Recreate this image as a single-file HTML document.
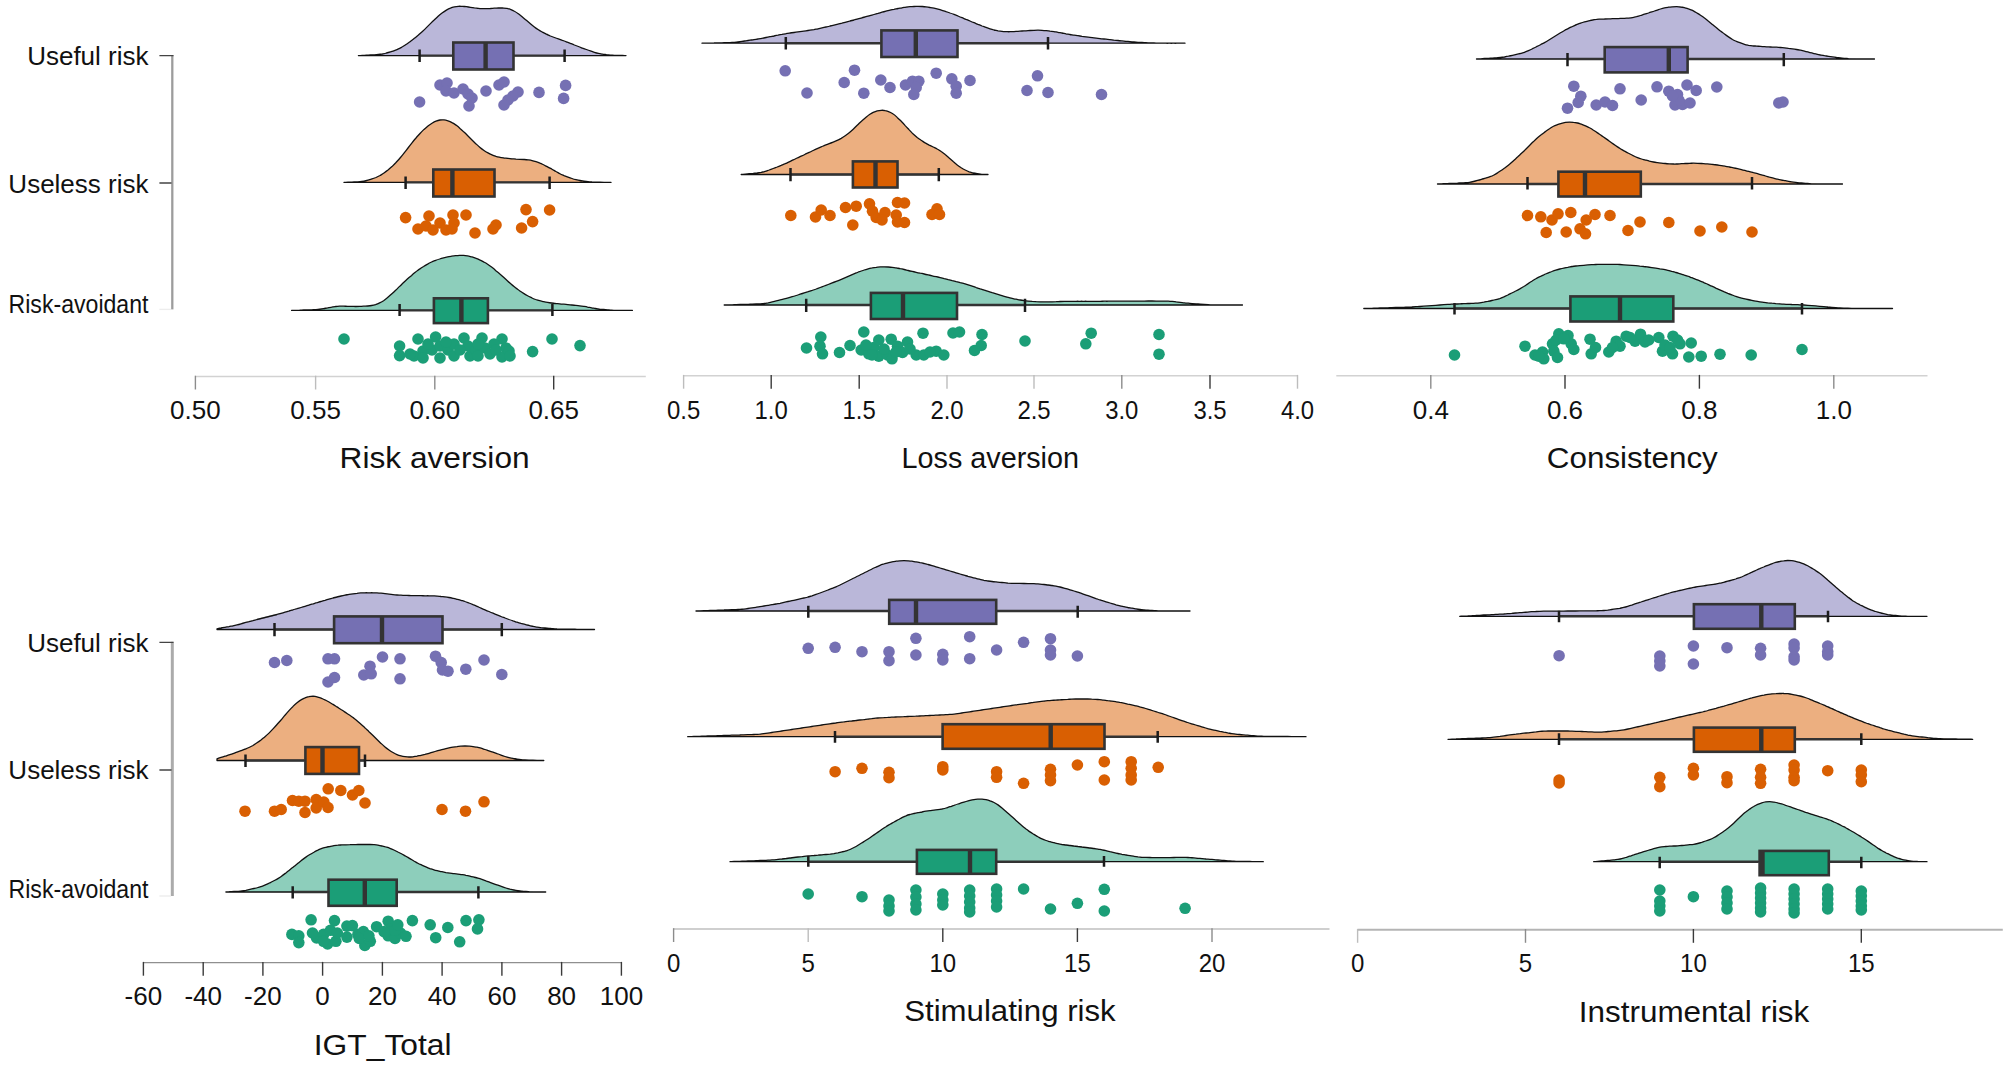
<!DOCTYPE html>
<html lang="en"><head><meta charset="utf-8"><title>Raincloud plots</title>
<style>
html,body{margin:0;padding:0;background:#fff}
svg{display:block}
text{font-family:"Liberation Sans",Arial,Helvetica,sans-serif;fill:#111}
.tk text{text-anchor:middle}
.ti{font-size:29px;text-anchor:start}
.yl{font-size:26px;text-anchor:end}
</style></head><body>
<svg width="2007" height="1068" viewBox="0 0 2007 1068">
<rect width="2007" height="1068" fill="#fff"/>
<path d="M358.4,55.6 C359.1,55.6 361.1,55.5 362.4,55.4 C363.7,55.3 365.1,55.3 366.4,55.2 C367.7,55.1 369.1,55.1 370.4,55.0 C371.7,54.9 373.1,54.9 374.4,54.8 C375.7,54.7 377.1,54.6 378.4,54.5 C379.7,54.4 381.1,54.2 382.4,54.0 C383.7,53.7 385.1,53.4 386.4,53.0 C387.7,52.7 389.1,52.3 390.4,51.9 C391.7,51.5 393.1,51.1 394.4,50.6 C395.7,50.1 397.1,49.6 398.4,48.9 C399.7,48.3 401.1,47.5 402.4,46.8 C403.7,46.0 405.1,45.1 406.4,44.2 C407.7,43.3 409.1,42.4 410.4,41.4 C411.7,40.4 413.1,39.4 414.4,38.3 C415.7,37.2 417.1,36.1 418.4,35.0 C419.7,33.8 421.1,32.6 422.4,31.4 C423.7,30.2 425.1,28.9 426.4,27.6 C427.7,26.3 429.1,24.9 430.4,23.6 C431.7,22.3 433.1,21.0 434.4,19.8 C435.7,18.5 437.1,17.3 438.4,16.1 C439.7,14.9 441.1,13.8 442.4,12.8 C443.7,11.8 445.1,10.9 446.4,10.1 C447.7,9.4 449.1,8.7 450.4,8.2 C451.7,7.6 453.1,7.2 454.4,6.9 C455.7,6.6 457.1,6.4 458.4,6.3 C459.7,6.2 461.1,6.3 462.4,6.3 C463.7,6.4 465.1,6.6 466.4,6.7 C467.7,6.9 469.1,7.1 470.4,7.3 C471.7,7.5 473.1,7.7 474.4,7.9 C475.7,8.0 477.1,8.2 478.4,8.3 C479.7,8.5 481.1,8.6 482.4,8.7 C483.7,8.7 485.1,8.7 486.4,8.7 C487.7,8.7 489.1,8.5 490.4,8.5 C491.7,8.4 493.1,8.3 494.4,8.2 C495.7,8.1 497.1,8.1 498.4,8.0 C499.7,8.0 501.1,8.0 502.4,8.0 C503.7,8.1 505.1,8.1 506.4,8.3 C507.7,8.6 509.1,8.9 510.4,9.3 C511.7,9.8 513.1,10.4 514.4,11.2 C515.7,11.9 517.1,12.9 518.4,13.8 C519.7,14.8 521.1,15.9 522.4,17.0 C523.7,18.1 525.1,19.2 526.4,20.3 C527.7,21.4 529.1,22.6 530.4,23.7 C531.7,24.8 533.1,25.9 534.4,26.9 C535.7,27.9 537.1,28.9 538.4,29.8 C539.7,30.7 541.1,31.4 542.4,32.1 C543.7,32.9 545.1,33.5 546.4,34.2 C547.7,34.8 549.1,35.4 550.4,36.0 C551.7,36.5 553.1,37.0 554.4,37.5 C555.7,38.0 557.1,38.5 558.4,38.9 C559.7,39.4 561.1,39.9 562.4,40.4 C563.7,40.8 565.1,41.3 566.4,41.8 C567.7,42.3 569.1,42.8 570.4,43.4 C571.7,43.9 573.1,44.4 574.4,45.0 C575.7,45.5 577.1,46.0 578.4,46.5 C579.7,47.1 581.1,47.6 582.4,48.1 C583.7,48.6 585.1,49.1 586.4,49.5 C587.7,50.0 589.1,50.5 590.4,50.9 C591.7,51.4 593.1,51.9 594.4,52.3 C595.7,52.7 597.1,53.1 598.4,53.4 C599.7,53.7 601.1,53.9 602.4,54.1 C603.7,54.4 605.1,54.5 606.4,54.7 C607.7,54.8 609.1,55.0 610.4,55.1 C611.7,55.2 613.1,55.2 614.4,55.3 C615.7,55.3 617.1,55.4 618.4,55.4 C619.7,55.4 621.1,55.5 622.4,55.5 C623.7,55.5 625.4,55.6 626.0,55.6 L626.0,55.6 L358.4,55.6 Z" fill="#BAB7D9" stroke="#111" stroke-width="1.3" stroke-linejoin="round"/>
<path d="M419.6,55.6 H452.4 M514.0,55.6 H564.6" stroke="#333333" stroke-width="2.4" fill="none"/>
<path d="M419.6,49.6 V62.0 M564.6,49.6 V62.0" stroke="#1c1c1c" stroke-width="2.5" fill="none"/>
<rect x="453.3" y="42.5" width="60.2" height="27.0" fill="#7570B3" stroke="#333333" stroke-width="2.6"/>
<path d="M485.6,42.6 V69.0" stroke="#333333" stroke-width="4.4"/>
<g fill="#7570B3"><circle cx="419.6" cy="102.0" r="5.8"/><circle cx="440.0" cy="85.0" r="5.8"/><circle cx="447.0" cy="83.0" r="5.8"/><circle cx="446.0" cy="91.0" r="5.8"/><circle cx="454.0" cy="93.0" r="5.8"/><circle cx="463.0" cy="89.0" r="5.8"/><circle cx="468.0" cy="94.0" r="5.8"/><circle cx="472.0" cy="98.0" r="5.8"/><circle cx="469.0" cy="106.0" r="5.8"/><circle cx="486.0" cy="91.0" r="5.8"/><circle cx="499.0" cy="85.0" r="5.8"/><circle cx="504.0" cy="82.0" r="5.8"/><circle cx="518.0" cy="92.0" r="5.8"/><circle cx="513.0" cy="96.0" r="5.8"/><circle cx="508.0" cy="100.0" r="5.8"/><circle cx="504.0" cy="105.0" r="5.8"/><circle cx="539.0" cy="92.4" r="5.8"/><circle cx="565.6" cy="85.4" r="5.8"/><circle cx="563.6" cy="98.4" r="5.8"/></g>
<path d="M344.0,182.4 C344.7,182.4 346.7,182.3 348.0,182.2 C349.3,182.2 350.7,182.1 352.0,182.1 C353.3,182.0 354.7,182.0 356.0,181.9 C357.3,181.9 358.7,181.8 360.0,181.7 C361.3,181.6 362.7,181.4 364.0,181.2 C365.3,181.0 366.7,180.6 368.0,180.2 C369.3,179.8 370.7,179.4 372.0,178.9 C373.3,178.5 374.7,178.0 376.0,177.5 C377.3,176.9 378.7,176.2 380.0,175.5 C381.3,174.7 382.7,173.9 384.0,173.0 C385.3,172.1 386.7,171.1 388.0,170.1 C389.3,169.0 390.7,167.8 392.0,166.6 C393.3,165.3 394.7,163.9 396.0,162.5 C397.3,161.0 398.7,159.6 400.0,158.0 C401.3,156.5 402.7,154.9 404.0,153.2 C405.3,151.5 406.7,149.7 408.0,148.0 C409.3,146.3 410.7,144.5 412.0,142.8 C413.3,141.1 414.7,139.5 416.0,138.0 C417.3,136.4 418.7,135.0 420.0,133.5 C421.3,132.1 422.7,130.7 424.0,129.4 C425.3,128.2 426.7,127.0 428.0,125.9 C429.3,124.9 430.7,124.0 432.0,123.2 C433.3,122.4 434.7,121.6 436.0,121.1 C437.3,120.6 438.7,120.2 440.0,120.0 C441.3,119.8 442.7,119.8 444.0,119.9 C445.3,120.0 446.7,120.4 448.0,120.8 C449.3,121.2 450.7,121.8 452.0,122.6 C453.3,123.3 454.7,124.2 456.0,125.1 C457.3,126.1 458.7,127.2 460.0,128.4 C461.3,129.5 462.7,130.8 464.0,132.1 C465.3,133.3 466.7,134.7 468.0,136.0 C469.3,137.3 470.7,138.7 472.0,140.0 C473.3,141.3 474.7,142.7 476.0,143.9 C477.3,145.2 478.7,146.4 480.0,147.5 C481.3,148.6 482.7,149.6 484.0,150.5 C485.3,151.4 486.7,152.2 488.0,152.9 C489.3,153.7 490.7,154.3 492.0,154.8 C493.3,155.4 494.7,155.8 496.0,156.3 C497.3,156.7 498.7,157.0 500.0,157.3 C501.3,157.6 502.7,157.8 504.0,158.0 C505.3,158.1 506.7,158.3 508.0,158.4 C509.3,158.5 510.7,158.7 512.0,158.8 C513.3,158.9 514.7,159.0 516.0,159.1 C517.3,159.1 518.7,159.2 520.0,159.3 C521.3,159.3 522.7,159.4 524.0,159.5 C525.3,159.6 526.7,159.7 528.0,159.9 C529.3,160.1 530.7,160.3 532.0,160.6 C533.3,160.9 534.7,161.3 536.0,161.7 C537.3,162.1 538.7,162.6 540.0,163.2 C541.3,163.7 542.7,164.4 544.0,165.0 C545.3,165.7 546.7,166.4 548.0,167.1 C549.3,167.8 550.7,168.5 552.0,169.2 C553.3,170.0 554.7,170.7 556.0,171.5 C557.3,172.2 558.7,173.0 560.0,173.7 C561.3,174.4 562.7,175.0 564.0,175.6 C565.3,176.1 566.7,176.6 568.0,177.1 C569.3,177.6 570.7,178.1 572.0,178.5 C573.3,179.0 574.7,179.4 576.0,179.7 C577.3,180.0 578.7,180.3 580.0,180.5 C581.3,180.8 582.7,180.9 584.0,181.1 C585.3,181.3 586.7,181.5 588.0,181.6 C589.3,181.8 590.7,181.9 592.0,182.0 C593.3,182.0 594.7,182.1 596.0,182.1 C597.3,182.1 598.7,182.2 600.0,182.2 C601.3,182.2 602.7,182.2 604.0,182.3 C605.3,182.3 606.8,182.3 608.0,182.3 C609.2,182.4 610.5,182.4 611.0,182.4 L611.0,182.4 L344.0,182.4 Z" fill="#ECAF80" stroke="#111" stroke-width="1.3" stroke-linejoin="round"/>
<path d="M405.6,182.4 H432.4 M495.0,182.4 H549.6" stroke="#333333" stroke-width="2.4" fill="none"/>
<path d="M405.6,176.4 V189.0 M549.6,176.4 V189.0" stroke="#1c1c1c" stroke-width="2.5" fill="none"/>
<rect x="433.3" y="169.5" width="61.2" height="27.0" fill="#D95F02" stroke="#333333" stroke-width="2.6"/>
<path d="M452.4,169.6 V196.0" stroke="#333333" stroke-width="4.4"/>
<g fill="#D95F02"><circle cx="405.6" cy="217.6" r="5.8"/><circle cx="418.0" cy="229.0" r="5.8"/><circle cx="429.0" cy="216.0" r="5.8"/><circle cx="426.0" cy="226.0" r="5.8"/><circle cx="433.0" cy="230.0" r="5.8"/><circle cx="440.0" cy="223.0" r="5.8"/><circle cx="446.0" cy="230.0" r="5.8"/><circle cx="453.0" cy="215.0" r="5.8"/><circle cx="454.0" cy="223.0" r="5.8"/><circle cx="452.0" cy="229.0" r="5.8"/><circle cx="466.0" cy="215.0" r="5.8"/><circle cx="475.0" cy="233.0" r="5.8"/><circle cx="496.0" cy="225.0" r="5.8"/><circle cx="493.0" cy="229.0" r="5.8"/><circle cx="521.6" cy="228.0" r="5.8"/><circle cx="532.6" cy="221.6" r="5.8"/><circle cx="526.0" cy="209.6" r="5.8"/><circle cx="549.6" cy="210.0" r="5.8"/></g>
<path d="M291.6,310.4 C292.3,310.4 294.3,310.3 295.6,310.3 C296.9,310.2 298.3,310.2 299.6,310.2 C300.9,310.1 302.3,310.1 303.6,310.0 C304.9,310.0 306.3,310.0 307.6,309.9 C308.9,309.9 310.3,309.8 311.6,309.8 C312.9,309.7 314.3,309.7 315.6,309.6 C316.9,309.5 318.3,309.4 319.6,309.2 C320.9,309.0 322.3,308.8 323.6,308.6 C324.9,308.4 326.3,308.1 327.6,307.9 C328.9,307.6 330.3,307.4 331.6,307.2 C332.9,306.9 334.3,306.7 335.6,306.5 C336.9,306.4 338.3,306.3 339.6,306.2 C340.9,306.1 342.3,306.2 343.6,306.2 C344.9,306.2 346.3,306.3 347.6,306.3 C348.9,306.3 350.3,306.4 351.6,306.4 C352.9,306.4 354.3,306.5 355.6,306.5 C356.9,306.5 358.3,306.5 359.6,306.4 C360.9,306.4 362.3,306.3 363.6,306.2 C364.9,306.2 366.3,306.1 367.6,306.0 C368.9,305.9 370.3,305.8 371.6,305.5 C372.9,305.3 374.3,305.0 375.6,304.6 C376.9,304.1 378.3,303.6 379.6,302.9 C380.9,302.3 382.3,301.5 383.6,300.7 C384.9,299.8 386.3,298.7 387.6,297.6 C388.9,296.5 390.3,295.3 391.6,294.1 C392.9,292.9 394.3,291.6 395.6,290.3 C396.9,289.0 398.3,287.7 399.6,286.4 C400.9,285.1 402.3,283.8 403.6,282.5 C404.9,281.2 406.3,280.0 407.6,278.8 C408.9,277.6 410.3,276.5 411.6,275.4 C412.9,274.2 414.3,273.1 415.6,272.1 C416.9,271.1 418.3,270.1 419.6,269.1 C420.9,268.2 422.3,267.3 423.6,266.5 C424.9,265.6 426.3,264.8 427.6,264.1 C428.9,263.3 430.3,262.6 431.6,262.0 C432.9,261.4 434.3,260.9 435.6,260.4 C436.9,259.9 438.3,259.4 439.6,259.0 C440.9,258.5 442.3,258.1 443.6,257.8 C444.9,257.5 446.3,257.2 447.6,256.9 C448.9,256.6 450.3,256.4 451.6,256.2 C452.9,256.0 454.3,255.8 455.6,255.7 C456.9,255.6 458.3,255.5 459.6,255.4 C460.9,255.4 462.3,255.4 463.6,255.4 C464.9,255.5 466.3,255.7 467.6,255.9 C468.9,256.1 470.3,256.5 471.6,256.8 C472.9,257.2 474.3,257.6 475.6,258.2 C476.9,258.7 478.3,259.2 479.6,259.9 C480.9,260.5 482.3,261.1 483.6,261.9 C484.9,262.6 486.3,263.3 487.6,264.2 C488.9,265.1 490.3,266.1 491.6,267.1 C492.9,268.1 494.3,269.2 495.6,270.4 C496.9,271.5 498.3,272.6 499.6,273.8 C500.9,274.9 502.3,276.1 503.6,277.3 C504.9,278.5 506.3,279.8 507.6,280.9 C508.9,282.1 510.3,283.3 511.6,284.4 C512.9,285.6 514.3,286.6 515.6,287.7 C516.9,288.7 518.3,289.7 519.6,290.7 C520.9,291.6 522.3,292.6 523.6,293.4 C524.9,294.2 526.3,295.0 527.6,295.7 C528.9,296.5 530.3,297.1 531.6,297.7 C532.9,298.4 534.3,299.0 535.6,299.5 C536.9,299.9 538.3,300.3 539.6,300.7 C540.9,301.1 542.3,301.3 543.6,301.6 C544.9,301.9 546.3,302.2 547.6,302.4 C548.9,302.7 550.3,302.9 551.6,303.0 C552.9,303.2 554.3,303.3 555.6,303.5 C556.9,303.6 558.3,303.7 559.6,303.8 C560.9,304.0 562.3,304.1 563.6,304.2 C564.9,304.3 566.3,304.4 567.6,304.6 C568.9,304.7 570.3,304.8 571.6,305.0 C572.9,305.1 574.3,305.2 575.6,305.4 C576.9,305.5 578.3,305.6 579.6,305.8 C580.9,306.0 582.3,306.2 583.6,306.4 C584.9,306.6 586.3,306.8 587.6,307.1 C588.9,307.3 590.3,307.6 591.6,307.8 C592.9,308.0 594.3,308.3 595.6,308.5 C596.9,308.7 598.3,308.9 599.6,309.1 C600.9,309.2 602.3,309.4 603.6,309.5 C604.9,309.6 606.3,309.7 607.6,309.8 C608.9,309.9 610.3,310.1 611.6,310.1 C612.9,310.2 614.3,310.3 615.6,310.3 C616.9,310.4 618.3,310.4 619.6,310.4 C620.9,310.4 622.3,310.4 623.6,310.4 C624.9,310.4 626.1,310.4 627.6,310.4 C629.1,310.4 631.6,310.4 632.4,310.4 L632.4,310.4 L291.6,310.4 Z" fill="#8DCEBB" stroke="#111" stroke-width="1.3" stroke-linejoin="round"/>
<path d="M399.6,310.4 H433.0 M488.4,310.4 H552.4" stroke="#333333" stroke-width="2.4" fill="none"/>
<path d="M399.6,304.0 V316.0 M552.4,304.0 V316.0" stroke="#1c1c1c" stroke-width="2.5" fill="none"/>
<rect x="433.9" y="298.3" width="54.0" height="24.8" fill="#1B9E77" stroke="#333333" stroke-width="2.6"/>
<path d="M461.4,298.4 V322.6" stroke="#333333" stroke-width="4.4"/>
<g fill="#1B9E77"><circle cx="344.0" cy="339.0" r="5.8"/><circle cx="399.6" cy="346.0" r="5.8"/><circle cx="399.6" cy="355.6" r="5.8"/><circle cx="418.0" cy="339.0" r="5.8"/><circle cx="414.0" cy="356.0" r="5.8"/><circle cx="423.0" cy="351.0" r="5.8"/><circle cx="423.0" cy="358.0" r="5.8"/><circle cx="435.6" cy="337.0" r="5.8"/><circle cx="432.0" cy="350.0" r="5.8"/><circle cx="440.0" cy="346.0" r="5.8"/><circle cx="440.0" cy="358.0" r="5.8"/><circle cx="448.0" cy="350.0" r="5.8"/><circle cx="454.0" cy="344.0" r="5.8"/><circle cx="454.0" cy="356.0" r="5.8"/><circle cx="464.0" cy="338.0" r="5.8"/><circle cx="468.0" cy="346.0" r="5.8"/><circle cx="470.0" cy="356.0" r="5.8"/><circle cx="476.0" cy="350.0" r="5.8"/><circle cx="482.0" cy="338.0" r="5.8"/><circle cx="485.0" cy="348.0" r="5.8"/><circle cx="490.0" cy="354.0" r="5.8"/><circle cx="502.0" cy="339.0" r="5.8"/><circle cx="506.0" cy="348.0" r="5.8"/><circle cx="502.0" cy="357.0" r="5.8"/><circle cx="509.0" cy="351.0" r="5.8"/><circle cx="532.6" cy="351.6" r="5.8"/><circle cx="552.0" cy="339.0" r="5.8"/><circle cx="580.0" cy="345.6" r="5.8"/><circle cx="410.0" cy="354.0" r="5.8"/><circle cx="428.0" cy="344.0" r="5.8"/><circle cx="446.0" cy="342.0" r="5.8"/><circle cx="460.0" cy="350.0" r="5.8"/><circle cx="478.0" cy="356.0" r="5.8"/><circle cx="494.0" cy="344.0" r="5.8"/><circle cx="496.0" cy="350.0" r="5.8"/><circle cx="510.0" cy="356.0" r="5.8"/><circle cx="478.0" cy="344.0" r="5.8"/></g>
<path d="M702.0,43.2 C702.7,43.2 704.7,43.2 706.0,43.2 C707.3,43.1 708.7,43.1 710.0,43.1 C711.3,43.0 712.7,43.0 714.0,43.0 C715.3,42.9 716.7,42.9 718.0,42.9 C719.3,42.9 720.7,42.8 722.0,42.8 C723.3,42.8 724.7,42.7 726.0,42.7 C727.3,42.7 728.7,42.6 730.0,42.6 C731.3,42.5 732.7,42.5 734.0,42.4 C735.3,42.3 736.7,42.2 738.0,42.0 C739.3,41.8 740.7,41.6 742.0,41.4 C743.3,41.3 744.7,41.0 746.0,40.8 C747.3,40.7 748.7,40.5 750.0,40.2 C751.3,40.0 752.7,39.9 754.0,39.6 C755.3,39.4 756.7,39.2 758.0,39.0 C759.3,38.8 760.7,38.6 762.0,38.3 C763.3,38.1 764.7,37.8 766.0,37.5 C767.3,37.3 768.7,37.0 770.0,36.7 C771.3,36.5 772.7,36.2 774.0,36.0 C775.3,35.7 776.7,35.4 778.0,35.2 C779.3,34.9 780.7,34.6 782.0,34.4 C783.3,34.1 784.7,33.9 786.0,33.7 C787.3,33.4 788.7,33.2 790.0,33.0 C791.3,32.9 792.7,32.7 794.0,32.5 C795.3,32.3 796.7,32.1 798.0,31.9 C799.3,31.7 800.7,31.5 802.0,31.3 C803.3,31.2 804.7,31.0 806.0,30.8 C807.3,30.6 808.7,30.4 810.0,30.2 C811.3,30.0 812.7,29.8 814.0,29.6 C815.3,29.3 816.7,29.1 818.0,28.8 C819.3,28.5 820.7,28.2 822.0,27.9 C823.3,27.6 824.7,27.3 826.0,27.0 C827.3,26.7 828.7,26.4 830.0,26.0 C831.3,25.7 832.7,25.4 834.0,25.1 C835.3,24.8 836.7,24.5 838.0,24.2 C839.3,23.9 840.7,23.5 842.0,23.2 C843.3,22.8 844.7,22.5 846.0,22.1 C847.3,21.8 848.7,21.4 850.0,21.0 C851.3,20.7 852.7,20.3 854.0,20.0 C855.3,19.6 856.7,19.3 858.0,18.9 C859.3,18.5 860.7,18.2 862.0,17.8 C863.3,17.4 864.7,17.1 866.0,16.7 C867.3,16.3 868.7,16.0 870.0,15.6 C871.3,15.2 872.7,14.9 874.0,14.5 C875.3,14.1 876.7,13.7 878.0,13.4 C879.3,13.0 880.7,12.6 882.0,12.2 C883.3,11.9 884.7,11.5 886.0,11.1 C887.3,10.8 888.7,10.4 890.0,10.1 C891.3,9.8 892.7,9.5 894.0,9.3 C895.3,9.0 896.7,8.8 898.0,8.5 C899.3,8.3 900.7,8.0 902.0,7.8 C903.3,7.6 904.7,7.3 906.0,7.1 C907.3,7.0 908.7,6.8 910.0,6.7 C911.3,6.6 912.7,6.6 914.0,6.5 C915.3,6.5 916.7,6.4 918.0,6.4 C919.3,6.4 920.7,6.4 922.0,6.5 C923.3,6.6 924.7,6.7 926.0,6.9 C927.3,7.1 928.7,7.3 930.0,7.5 C931.3,7.7 932.7,7.9 934.0,8.2 C935.3,8.5 936.7,8.8 938.0,9.1 C939.3,9.5 940.7,9.9 942.0,10.3 C943.3,10.7 944.7,11.1 946.0,11.6 C947.3,12.0 948.7,12.5 950.0,13.0 C951.3,13.4 952.7,13.9 954.0,14.4 C955.3,15.0 956.7,15.5 958.0,16.0 C959.3,16.6 960.7,17.2 962.0,17.7 C963.3,18.3 964.7,18.8 966.0,19.4 C967.3,19.9 968.7,20.5 970.0,21.0 C971.3,21.6 972.7,22.2 974.0,22.7 C975.3,23.3 976.7,23.8 978.0,24.4 C979.3,24.9 980.7,25.4 982.0,26.0 C983.3,26.5 984.7,26.9 986.0,27.4 C987.3,27.9 988.7,28.4 990.0,28.8 C991.3,29.2 992.7,29.6 994.0,30.0 C995.3,30.3 996.7,30.5 998.0,30.8 C999.3,31.0 1000.7,31.2 1002.0,31.3 C1003.3,31.5 1004.7,31.6 1006.0,31.7 C1007.3,31.7 1008.7,31.8 1010.0,31.7 C1011.3,31.7 1012.7,31.6 1014.0,31.6 C1015.3,31.5 1016.7,31.4 1018.0,31.3 C1019.3,31.2 1020.7,31.1 1022.0,31.0 C1023.3,30.9 1024.7,30.9 1026.0,30.8 C1027.3,30.7 1028.7,30.6 1030.0,30.5 C1031.3,30.4 1032.7,30.3 1034.0,30.3 C1035.3,30.2 1036.7,30.2 1038.0,30.2 C1039.3,30.2 1040.7,30.3 1042.0,30.4 C1043.3,30.5 1044.7,30.6 1046.0,30.7 C1047.3,30.8 1048.7,30.9 1050.0,31.1 C1051.3,31.2 1052.7,31.4 1054.0,31.6 C1055.3,31.8 1056.7,32.1 1058.0,32.3 C1059.3,32.5 1060.7,32.8 1062.0,33.0 C1063.3,33.3 1064.7,33.5 1066.0,33.8 C1067.3,34.0 1068.7,34.3 1070.0,34.5 C1071.3,34.7 1072.7,35.0 1074.0,35.2 C1075.3,35.4 1076.7,35.5 1078.0,35.7 C1079.3,35.9 1080.7,36.1 1082.0,36.3 C1083.3,36.4 1084.7,36.6 1086.0,36.8 C1087.3,37.0 1088.7,37.2 1090.0,37.3 C1091.3,37.5 1092.7,37.7 1094.0,37.8 C1095.3,38.0 1096.7,38.2 1098.0,38.3 C1099.3,38.5 1100.7,38.6 1102.0,38.8 C1103.3,38.9 1104.7,39.1 1106.0,39.2 C1107.3,39.4 1108.7,39.5 1110.0,39.6 C1111.3,39.8 1112.7,39.9 1114.0,40.1 C1115.3,40.2 1116.7,40.4 1118.0,40.5 C1119.3,40.7 1120.7,40.8 1122.0,40.9 C1123.3,41.0 1124.7,41.2 1126.0,41.3 C1127.3,41.4 1128.7,41.5 1130.0,41.6 C1131.3,41.7 1132.7,41.9 1134.0,42.0 C1135.3,42.1 1136.7,42.2 1138.0,42.3 C1139.3,42.4 1140.7,42.5 1142.0,42.5 C1143.3,42.6 1144.7,42.7 1146.0,42.7 C1147.3,42.8 1148.7,42.8 1150.0,42.9 C1151.3,42.9 1152.7,43.0 1154.0,43.0 C1155.3,43.1 1156.7,43.1 1158.0,43.2 C1159.3,43.2 1160.7,43.2 1162.0,43.2 C1163.3,43.2 1164.7,43.2 1166.0,43.2 C1167.3,43.3 1168.7,43.2 1170.0,43.2 C1171.3,43.3 1172.7,43.2 1174.0,43.2 C1175.3,43.3 1176.7,43.2 1178.0,43.2 C1179.3,43.2 1180.8,43.2 1182.0,43.2 C1183.2,43.2 1184.5,43.2 1185.0,43.2 L1185.0,43.2 L702.0,43.2 Z" fill="#BAB7D9" stroke="#111" stroke-width="1.3" stroke-linejoin="round"/>
<path d="M785.8,43.2 H880.5 M958.0,43.2 H1048.0" stroke="#333333" stroke-width="2.4" fill="none"/>
<path d="M785.8,37.0 V49.5 M1048.0,37.0 V49.5" stroke="#1c1c1c" stroke-width="2.5" fill="none"/>
<rect x="881.4" y="30.4" width="76.1" height="26.6" fill="#7570B3" stroke="#333333" stroke-width="2.6"/>
<path d="M915.8,30.5 V56.5" stroke="#333333" stroke-width="4.4"/>
<g fill="#7570B3"><circle cx="785.2" cy="70.8" r="5.8"/><circle cx="807.0" cy="93.0" r="5.8"/><circle cx="844.2" cy="82.5" r="5.8"/><circle cx="854.5" cy="70.2" r="5.8"/><circle cx="863.8" cy="93.2" r="5.8"/><circle cx="880.8" cy="80.0" r="5.8"/><circle cx="890.0" cy="87.5" r="5.8"/><circle cx="905.5" cy="85.0" r="5.8"/><circle cx="912.5" cy="81.2" r="5.8"/><circle cx="918.8" cy="81.2" r="5.8"/><circle cx="916.2" cy="87.5" r="5.8"/><circle cx="913.8" cy="94.5" r="5.8"/><circle cx="936.2" cy="73.2" r="5.8"/><circle cx="951.8" cy="78.8" r="5.8"/><circle cx="956.2" cy="86.2" r="5.8"/><circle cx="956.2" cy="93.2" r="5.8"/><circle cx="970.0" cy="80.5" r="5.8"/><circle cx="1027.0" cy="90.5" r="5.8"/><circle cx="1037.5" cy="75.8" r="5.8"/><circle cx="1048.0" cy="92.5" r="5.8"/><circle cx="1101.5" cy="94.5" r="5.8"/></g>
<path d="M741.2,174.5 C741.9,174.4 743.9,174.2 745.2,174.1 C746.6,174.0 747.9,173.9 749.2,173.7 C750.6,173.6 751.9,173.5 753.2,173.4 C754.6,173.2 755.9,173.1 757.2,173.0 C758.6,172.8 759.9,172.6 761.2,172.4 C762.6,172.1 763.9,171.8 765.2,171.3 C766.6,170.9 767.9,170.4 769.2,170.0 C770.6,169.5 771.9,169.0 773.2,168.5 C774.6,168.0 775.9,167.5 777.2,167.0 C778.6,166.4 779.9,165.9 781.2,165.4 C782.6,164.8 783.9,164.2 785.2,163.7 C786.6,163.1 787.9,162.4 789.2,161.8 C790.6,161.2 791.9,160.5 793.2,159.9 C794.6,159.3 795.9,158.6 797.2,158.0 C798.6,157.4 799.9,156.7 801.2,156.1 C802.6,155.5 803.9,154.9 805.2,154.2 C806.6,153.6 807.9,153.0 809.2,152.4 C810.6,151.8 811.9,151.1 813.2,150.5 C814.6,149.9 815.9,149.3 817.2,148.7 C818.6,148.1 819.9,147.5 821.2,146.9 C822.6,146.3 823.9,145.8 825.2,145.2 C826.6,144.7 827.9,144.2 829.2,143.6 C830.6,143.1 831.9,142.6 833.2,142.1 C834.6,141.6 835.9,141.0 837.2,140.4 C838.6,139.8 839.9,139.1 841.2,138.4 C842.6,137.6 843.9,136.7 845.2,135.8 C846.6,134.8 847.9,133.8 849.2,132.7 C850.6,131.6 851.9,130.4 853.2,129.2 C854.6,127.9 855.9,126.6 857.2,125.3 C858.6,124.0 859.9,122.6 861.2,121.4 C862.6,120.2 863.9,119.0 865.2,117.9 C866.6,116.8 867.9,115.7 869.2,114.8 C870.6,113.9 871.9,113.0 873.2,112.4 C874.6,111.8 875.9,111.3 877.2,110.9 C878.6,110.6 879.9,110.4 881.2,110.3 C882.6,110.2 883.9,110.3 885.2,110.6 C886.6,110.8 887.9,111.2 889.2,111.8 C890.6,112.3 891.9,113.1 893.2,114.0 C894.6,114.9 895.9,116.1 897.2,117.4 C898.6,118.6 899.9,120.0 901.2,121.3 C902.6,122.7 903.9,124.1 905.2,125.6 C906.6,127.0 907.9,128.5 909.2,129.9 C910.6,131.3 911.9,132.8 913.2,134.0 C914.6,135.3 915.9,136.4 917.2,137.5 C918.6,138.5 919.9,139.4 921.2,140.3 C922.6,141.2 923.9,142.1 925.2,142.9 C926.6,143.7 927.9,144.4 929.2,145.1 C930.6,145.8 931.9,146.4 933.2,147.0 C934.6,147.7 935.9,148.2 937.2,149.0 C938.6,149.7 939.9,150.5 941.2,151.5 C942.6,152.4 943.9,153.5 945.2,154.6 C946.6,155.7 947.9,156.9 949.2,158.1 C950.6,159.3 951.9,160.4 953.2,161.6 C954.6,162.7 955.9,163.9 957.2,164.9 C958.6,166.0 959.9,166.9 961.2,167.8 C962.6,168.7 963.9,169.4 965.2,170.0 C966.6,170.7 967.9,171.3 969.2,171.8 C970.6,172.3 971.9,172.6 973.2,173.0 C974.6,173.3 975.9,173.5 977.2,173.7 C978.6,173.9 979.9,174.0 981.2,174.2 C982.6,174.3 984.1,174.3 985.2,174.4 C986.4,174.4 987.5,174.5 988.0,174.5 L988.0,174.5 L741.2,174.5 Z" fill="#ECAF80" stroke="#111" stroke-width="1.3" stroke-linejoin="round"/>
<path d="M790.5,174.5 H852.0 M898.0,174.5 H938.8" stroke="#333333" stroke-width="2.4" fill="none"/>
<path d="M790.5,168.0 V181.2 M938.8,168.0 V181.2" stroke="#1c1c1c" stroke-width="2.5" fill="none"/>
<rect x="852.9" y="161.4" width="44.6" height="26.1" fill="#D95F02" stroke="#333333" stroke-width="2.6"/>
<path d="M875.5,161.5 V187.0" stroke="#333333" stroke-width="4.4"/>
<g fill="#D95F02"><circle cx="790.8" cy="215.5" r="5.8"/><circle cx="815.5" cy="217.0" r="5.8"/><circle cx="821.2" cy="210.0" r="5.8"/><circle cx="830.0" cy="215.5" r="5.8"/><circle cx="845.5" cy="207.5" r="5.8"/><circle cx="856.2" cy="206.2" r="5.8"/><circle cx="852.8" cy="225.0" r="5.8"/><circle cx="869.5" cy="203.8" r="5.8"/><circle cx="872.5" cy="211.2" r="5.8"/><circle cx="876.2" cy="217.5" r="5.8"/><circle cx="885.0" cy="212.5" r="5.8"/><circle cx="882.0" cy="220.0" r="5.8"/><circle cx="897.5" cy="202.5" r="5.8"/><circle cx="904.5" cy="203.0" r="5.8"/><circle cx="896.2" cy="215.0" r="5.8"/><circle cx="897.5" cy="222.0" r="5.8"/><circle cx="904.5" cy="222.5" r="5.8"/><circle cx="937.0" cy="208.8" r="5.8"/><circle cx="932.0" cy="214.5" r="5.8"/><circle cx="939.5" cy="214.5" r="5.8"/></g>
<path d="M724.2,305.0 C724.9,305.0 726.9,304.9 728.2,304.9 C729.6,304.8 730.9,304.8 732.2,304.8 C733.6,304.7 734.9,304.7 736.2,304.6 C737.6,304.6 738.9,304.6 740.2,304.5 C741.6,304.5 742.9,304.4 744.2,304.4 C745.6,304.3 746.9,304.3 748.2,304.3 C749.6,304.2 750.9,304.2 752.2,304.1 C753.6,304.1 754.9,304.1 756.2,304.0 C757.6,304.0 758.9,303.9 760.2,303.9 C761.6,303.8 762.9,303.7 764.2,303.5 C765.6,303.4 766.9,303.1 768.2,302.9 C769.6,302.6 770.9,302.3 772.2,301.9 C773.6,301.6 774.9,301.3 776.2,300.9 C777.6,300.6 778.9,300.3 780.2,299.9 C781.6,299.6 782.9,299.3 784.2,298.9 C785.6,298.6 786.9,298.3 788.2,297.9 C789.6,297.5 790.9,297.1 792.2,296.7 C793.6,296.3 794.9,295.9 796.2,295.5 C797.6,295.1 798.9,294.6 800.2,294.2 C801.6,293.8 802.9,293.4 804.2,292.9 C805.6,292.5 806.9,292.1 808.2,291.7 C809.6,291.2 810.9,290.8 812.2,290.4 C813.6,289.9 814.9,289.4 816.2,289.0 C817.6,288.5 818.9,288.0 820.2,287.5 C821.6,287.0 822.9,286.5 824.2,286.0 C825.6,285.5 826.9,285.0 828.2,284.5 C829.6,284.0 830.9,283.5 832.2,282.9 C833.6,282.4 834.9,281.9 836.2,281.4 C837.6,280.9 838.9,280.4 840.2,279.8 C841.6,279.3 842.9,278.7 844.2,278.1 C845.6,277.6 846.9,277.0 848.2,276.4 C849.6,275.8 850.9,275.2 852.2,274.6 C853.6,274.1 854.9,273.5 856.2,272.9 C857.6,272.4 858.9,271.8 860.2,271.4 C861.6,270.9 862.9,270.4 864.2,270.0 C865.6,269.6 866.9,269.2 868.2,268.8 C869.6,268.5 870.9,268.1 872.2,267.9 C873.6,267.6 874.9,267.4 876.2,267.3 C877.6,267.1 878.9,267.0 880.2,266.9 C881.6,266.8 882.9,266.8 884.2,266.8 C885.6,266.8 886.9,266.9 888.2,267.0 C889.6,267.1 890.9,267.2 892.2,267.4 C893.6,267.6 894.9,267.7 896.2,267.9 C897.6,268.2 898.9,268.4 900.2,268.7 C901.6,268.9 902.9,269.2 904.2,269.5 C905.6,269.8 906.9,270.2 908.2,270.5 C909.6,270.8 910.9,271.1 912.2,271.4 C913.6,271.7 914.9,272.0 916.2,272.3 C917.6,272.6 918.9,272.9 920.2,273.2 C921.6,273.4 922.9,273.7 924.2,274.0 C925.6,274.3 926.9,274.6 928.2,274.9 C929.6,275.2 930.9,275.5 932.2,275.8 C933.6,276.1 934.9,276.4 936.2,276.7 C937.6,277.0 938.9,277.3 940.2,277.6 C941.6,277.9 942.9,278.2 944.2,278.6 C945.6,278.9 946.9,279.2 948.2,279.6 C949.6,279.9 950.9,280.2 952.2,280.6 C953.6,280.9 954.9,281.2 956.2,281.6 C957.6,281.9 958.9,282.2 960.2,282.6 C961.6,282.9 962.9,283.3 964.2,283.6 C965.6,284.0 966.9,284.4 968.2,284.8 C969.6,285.3 970.9,285.7 972.2,286.1 C973.6,286.6 974.9,287.0 976.2,287.5 C977.6,287.9 978.9,288.3 980.2,288.8 C981.6,289.2 982.9,289.7 984.2,290.1 C985.6,290.5 986.9,291.0 988.2,291.4 C989.6,291.8 990.9,292.2 992.2,292.7 C993.6,293.1 994.9,293.5 996.2,293.9 C997.6,294.3 998.9,294.7 1000.2,295.1 C1001.6,295.5 1002.9,295.9 1004.2,296.3 C1005.6,296.7 1006.9,297.1 1008.2,297.4 C1009.6,297.8 1010.9,298.1 1012.2,298.4 C1013.6,298.7 1014.9,299.0 1016.2,299.2 C1017.6,299.5 1018.9,299.8 1020.2,300.0 C1021.6,300.3 1022.9,300.5 1024.2,300.7 C1025.6,300.9 1026.9,301.0 1028.2,301.1 C1029.6,301.2 1030.9,301.3 1032.2,301.4 C1033.6,301.4 1034.9,301.5 1036.2,301.6 C1037.6,301.6 1038.9,301.7 1040.2,301.8 C1041.6,301.8 1042.9,301.9 1044.2,301.9 C1045.6,301.9 1046.9,301.9 1048.2,301.9 C1049.6,301.9 1050.9,301.8 1052.2,301.8 C1053.6,301.7 1054.9,301.7 1056.2,301.7 C1057.6,301.6 1058.9,301.6 1060.2,301.5 C1061.6,301.5 1062.9,301.5 1064.2,301.4 C1065.6,301.4 1066.9,301.3 1068.2,301.3 C1069.6,301.3 1070.9,301.3 1072.2,301.3 C1073.6,301.3 1074.9,301.3 1076.2,301.3 C1077.6,301.2 1078.9,301.3 1080.2,301.3 C1081.6,301.2 1082.9,301.3 1084.2,301.3 C1085.6,301.2 1086.9,301.3 1088.2,301.3 C1089.6,301.3 1090.9,301.3 1092.2,301.3 C1093.6,301.3 1094.9,301.3 1096.2,301.3 C1097.6,301.3 1098.9,301.3 1100.2,301.3 C1101.6,301.2 1102.9,301.3 1104.2,301.2 C1105.6,301.2 1106.9,301.3 1108.2,301.2 C1109.6,301.2 1110.9,301.2 1112.2,301.2 C1113.6,301.2 1114.9,301.2 1116.2,301.2 C1117.6,301.2 1118.9,301.2 1120.2,301.2 C1121.6,301.2 1122.9,301.2 1124.2,301.2 C1125.6,301.2 1126.9,301.2 1128.2,301.2 C1129.6,301.2 1130.9,301.1 1132.2,301.1 C1133.6,301.1 1134.9,301.1 1136.2,301.1 C1137.6,301.1 1138.9,301.1 1140.2,301.1 C1141.6,301.1 1142.9,301.1 1144.2,301.1 C1145.6,301.0 1146.9,301.0 1148.2,301.0 C1149.6,301.0 1150.9,301.0 1152.2,301.0 C1153.6,301.0 1154.9,301.0 1156.2,301.1 C1157.6,301.1 1158.9,301.1 1160.2,301.1 C1161.6,301.1 1162.9,301.1 1164.2,301.1 C1165.6,301.2 1166.9,301.2 1168.2,301.2 C1169.6,301.3 1170.9,301.3 1172.2,301.4 C1173.6,301.5 1174.9,301.6 1176.2,301.8 C1177.6,301.9 1178.9,302.1 1180.2,302.3 C1181.6,302.5 1182.9,302.6 1184.2,302.8 C1185.6,303.0 1186.9,303.1 1188.2,303.2 C1189.6,303.4 1190.9,303.5 1192.2,303.6 C1193.6,303.7 1194.9,303.8 1196.2,303.9 C1197.6,304.0 1198.9,304.0 1200.2,304.1 C1201.6,304.2 1202.9,304.3 1204.2,304.4 C1205.6,304.5 1206.9,304.6 1208.2,304.7 C1209.6,304.8 1210.9,304.8 1212.2,304.9 C1213.6,304.9 1214.9,305.0 1216.2,305.0 C1217.6,305.0 1218.9,305.0 1220.2,305.0 C1221.6,305.0 1222.9,305.0 1224.2,305.0 C1225.6,305.0 1226.9,305.0 1228.2,305.0 C1229.6,305.0 1230.9,305.0 1232.2,305.0 C1233.6,305.0 1234.9,305.0 1236.2,305.0 C1237.6,305.0 1239.2,305.0 1240.2,305.0 C1241.3,305.0 1242.1,305.0 1242.5,305.0 L1242.5,305.0 L724.2,305.0 Z" fill="#8DCEBB" stroke="#111" stroke-width="1.3" stroke-linejoin="round"/>
<path d="M806.2,305.0 H870.0 M957.5,305.0 H1025.0" stroke="#333333" stroke-width="2.4" fill="none"/>
<path d="M806.2,298.8 V312.0 M1025.0,298.8 V312.0" stroke="#1c1c1c" stroke-width="2.5" fill="none"/>
<rect x="870.9" y="292.9" width="86.1" height="26.1" fill="#1B9E77" stroke="#333333" stroke-width="2.6"/>
<path d="M903.0,293.0 V318.5" stroke="#333333" stroke-width="4.4"/>
<g fill="#1B9E77"><circle cx="806.5" cy="348.0" r="5.8"/><circle cx="820.8" cy="337.0" r="5.8"/><circle cx="820.0" cy="346.2" r="5.8"/><circle cx="822.5" cy="353.8" r="5.8"/><circle cx="839.5" cy="352.5" r="5.8"/><circle cx="850.0" cy="345.5" r="5.8"/><circle cx="863.8" cy="332.0" r="5.8"/><circle cx="861.2" cy="350.0" r="5.8"/><circle cx="868.8" cy="353.8" r="5.8"/><circle cx="873.8" cy="347.5" r="5.8"/><circle cx="878.8" cy="340.0" r="5.8"/><circle cx="878.8" cy="356.2" r="5.8"/><circle cx="887.5" cy="355.0" r="5.8"/><circle cx="891.2" cy="339.2" r="5.8"/><circle cx="892.0" cy="358.8" r="5.8"/><circle cx="897.5" cy="346.2" r="5.8"/><circle cx="902.5" cy="352.5" r="5.8"/><circle cx="907.5" cy="342.0" r="5.8"/><circle cx="916.2" cy="355.0" r="5.8"/><circle cx="923.0" cy="333.2" r="5.8"/><circle cx="923.8" cy="355.0" r="5.8"/><circle cx="936.2" cy="351.2" r="5.8"/><circle cx="943.8" cy="355.0" r="5.8"/><circle cx="953.0" cy="333.0" r="5.8"/><circle cx="959.5" cy="332.0" r="5.8"/><circle cx="982.0" cy="334.5" r="5.8"/><circle cx="981.2" cy="345.5" r="5.8"/><circle cx="974.5" cy="350.5" r="5.8"/><circle cx="1025.0" cy="341.0" r="5.8"/><circle cx="1091.2" cy="333.2" r="5.8"/><circle cx="1085.8" cy="343.8" r="5.8"/><circle cx="1159.0" cy="334.5" r="5.8"/><circle cx="1159.0" cy="354.2" r="5.8"/><circle cx="866.0" cy="345.0" r="5.8"/><circle cx="884.0" cy="349.0" r="5.8"/><circle cx="896.0" cy="352.0" r="5.8"/><circle cx="872.0" cy="355.0" r="5.8"/><circle cx="910.0" cy="349.0" r="5.8"/><circle cx="930.0" cy="352.0" r="5.8"/></g>
<path d="M1476.5,59.0 C1477.2,59.0 1479.2,58.8 1480.5,58.8 C1481.8,58.7 1483.2,58.6 1484.5,58.5 C1485.8,58.5 1487.2,58.4 1488.5,58.3 C1489.8,58.2 1491.2,58.2 1492.5,58.1 C1493.8,58.0 1495.2,57.9 1496.5,57.8 C1497.8,57.7 1499.2,57.7 1500.5,57.5 C1501.8,57.4 1503.2,57.2 1504.5,57.0 C1505.8,56.7 1507.2,56.4 1508.5,56.2 C1509.8,55.9 1511.2,55.6 1512.5,55.3 C1513.8,55.0 1515.2,54.7 1516.5,54.4 C1517.8,54.1 1519.2,53.8 1520.5,53.5 C1521.8,53.1 1523.2,52.8 1524.5,52.3 C1525.8,51.8 1527.2,51.3 1528.5,50.7 C1529.8,50.1 1531.2,49.4 1532.5,48.7 C1533.8,48.1 1535.2,47.4 1536.5,46.7 C1537.8,46.1 1539.2,45.4 1540.5,44.7 C1541.8,44.0 1543.2,43.3 1544.5,42.6 C1545.8,41.9 1547.2,41.1 1548.5,40.3 C1549.8,39.5 1551.2,38.6 1552.5,37.8 C1553.8,37.0 1555.2,36.1 1556.5,35.3 C1557.8,34.5 1559.2,33.6 1560.5,32.8 C1561.8,32.0 1563.2,31.2 1564.5,30.5 C1565.8,29.8 1567.2,29.1 1568.5,28.4 C1569.8,27.7 1571.2,27.1 1572.5,26.5 C1573.8,25.9 1575.2,25.3 1576.5,24.7 C1577.8,24.1 1579.2,23.6 1580.5,23.1 C1581.8,22.7 1583.2,22.3 1584.5,21.9 C1585.8,21.5 1587.2,21.2 1588.5,20.9 C1589.8,20.6 1591.2,20.2 1592.5,20.0 C1593.8,19.7 1595.2,19.5 1596.5,19.4 C1597.8,19.2 1599.2,19.2 1600.5,19.1 C1601.8,19.0 1603.2,19.0 1604.5,19.0 C1605.8,18.9 1607.2,18.9 1608.5,18.9 C1609.8,18.8 1611.2,18.8 1612.5,18.7 C1613.8,18.7 1615.2,18.6 1616.5,18.6 C1617.8,18.6 1619.2,18.5 1620.5,18.4 C1621.8,18.4 1623.2,18.4 1624.5,18.3 C1625.8,18.2 1627.2,18.2 1628.5,18.1 C1629.8,18.0 1631.2,17.9 1632.5,17.6 C1633.8,17.4 1635.2,17.0 1636.5,16.7 C1637.8,16.3 1639.2,15.9 1640.5,15.5 C1641.8,15.1 1643.2,14.6 1644.5,14.2 C1645.8,13.8 1647.2,13.4 1648.5,13.0 C1649.8,12.5 1651.2,12.1 1652.5,11.7 C1653.8,11.2 1655.2,10.8 1656.5,10.3 C1657.8,9.9 1659.2,9.4 1660.5,9.0 C1661.8,8.6 1663.2,8.2 1664.5,7.9 C1665.8,7.6 1667.2,7.4 1668.5,7.2 C1669.8,7.0 1671.2,6.9 1672.5,6.8 C1673.8,6.7 1675.2,6.6 1676.5,6.6 C1677.8,6.7 1679.2,6.8 1680.5,7.0 C1681.8,7.1 1683.2,7.4 1684.5,7.7 C1685.8,8.0 1687.2,8.3 1688.5,8.8 C1689.8,9.2 1691.2,9.8 1692.5,10.4 C1693.8,11.1 1695.2,11.9 1696.5,12.7 C1697.8,13.5 1699.2,14.3 1700.5,15.2 C1701.8,16.1 1703.2,17.0 1704.5,18.1 C1705.8,19.1 1707.2,20.2 1708.5,21.3 C1709.8,22.3 1711.2,23.5 1712.5,24.6 C1713.8,25.7 1715.2,26.8 1716.5,27.8 C1717.8,28.9 1719.2,29.9 1720.5,31.0 C1721.8,32.0 1723.2,33.0 1724.5,34.0 C1725.8,35.0 1727.2,36.0 1728.5,36.9 C1729.8,37.8 1731.2,38.7 1732.5,39.5 C1733.8,40.2 1735.2,40.8 1736.5,41.4 C1737.8,42.0 1739.2,42.4 1740.5,42.9 C1741.8,43.4 1743.2,43.9 1744.5,44.3 C1745.8,44.7 1747.2,45.0 1748.5,45.3 C1749.8,45.5 1751.2,45.7 1752.5,45.8 C1753.8,46.0 1755.2,46.0 1756.5,46.1 C1757.8,46.2 1759.2,46.3 1760.5,46.4 C1761.8,46.5 1763.2,46.6 1764.5,46.7 C1765.8,46.8 1767.2,46.8 1768.5,46.9 C1769.8,47.0 1771.2,47.0 1772.5,47.1 C1773.8,47.1 1775.2,47.2 1776.5,47.2 C1777.8,47.3 1779.2,47.4 1780.5,47.5 C1781.8,47.6 1783.2,47.7 1784.5,47.8 C1785.8,48.0 1787.2,48.2 1788.5,48.4 C1789.8,48.5 1791.2,48.7 1792.5,48.9 C1793.8,49.1 1795.2,49.3 1796.5,49.5 C1797.8,49.8 1799.2,50.0 1800.5,50.2 C1801.8,50.5 1803.2,50.8 1804.5,51.1 C1805.8,51.5 1807.2,51.8 1808.5,52.1 C1809.8,52.5 1811.2,52.8 1812.5,53.1 C1813.8,53.5 1815.2,53.8 1816.5,54.1 C1817.8,54.4 1819.2,54.7 1820.5,55.0 C1821.8,55.2 1823.2,55.4 1824.5,55.7 C1825.8,55.9 1827.2,56.1 1828.5,56.3 C1829.8,56.5 1831.2,56.7 1832.5,56.9 C1833.8,57.1 1835.2,57.3 1836.5,57.5 C1837.8,57.6 1839.2,57.8 1840.5,57.9 C1841.8,58.1 1843.2,58.2 1844.5,58.3 C1845.8,58.4 1847.2,58.5 1848.5,58.6 C1849.8,58.6 1851.2,58.7 1852.5,58.8 C1853.8,58.9 1855.2,58.9 1856.5,58.9 C1857.8,59.0 1859.2,59.0 1860.5,59.0 C1861.8,59.0 1863.2,59.0 1864.5,59.0 C1865.8,59.0 1867.2,59.0 1868.5,59.0 C1869.8,59.0 1871.5,59.0 1872.5,59.0 C1873.5,59.0 1874.2,59.0 1874.5,59.0 L1874.5,59.0 L1476.5,59.0 Z" fill="#BAB7D9" stroke="#111" stroke-width="1.3" stroke-linejoin="round"/>
<path d="M1567.5,59.0 H1603.8 M1688.0,59.0 H1783.8" stroke="#333333" stroke-width="2.4" fill="none"/>
<path d="M1567.5,53.0 V66.2 M1783.8,53.0 V66.2" stroke="#1c1c1c" stroke-width="2.5" fill="none"/>
<rect x="1604.7" y="47.1" width="82.9" height="25.3" fill="#7570B3" stroke="#333333" stroke-width="2.6"/>
<path d="M1668.8,47.2 V72.0" stroke="#333333" stroke-width="4.4"/>
<g fill="#7570B3"><circle cx="1567.5" cy="108.2" r="5.8"/><circle cx="1573.8" cy="86.2" r="5.8"/><circle cx="1580.8" cy="96.2" r="5.8"/><circle cx="1578.2" cy="102.5" r="5.8"/><circle cx="1596.2" cy="105.0" r="5.8"/><circle cx="1605.0" cy="102.0" r="5.8"/><circle cx="1612.5" cy="105.5" r="5.8"/><circle cx="1620.0" cy="88.8" r="5.8"/><circle cx="1641.2" cy="100.0" r="5.8"/><circle cx="1657.0" cy="86.8" r="5.8"/><circle cx="1668.8" cy="91.2" r="5.8"/><circle cx="1677.5" cy="94.5" r="5.8"/><circle cx="1687.0" cy="85.0" r="5.8"/><circle cx="1696.2" cy="90.5" r="5.8"/><circle cx="1675.0" cy="105.0" r="5.8"/><circle cx="1682.5" cy="104.5" r="5.8"/><circle cx="1690.0" cy="103.0" r="5.8"/><circle cx="1716.8" cy="87.0" r="5.8"/><circle cx="1778.8" cy="103.0" r="5.8"/><circle cx="1783.0" cy="102.0" r="5.8"/><circle cx="1678.8" cy="100.0" r="5.8"/><circle cx="1672.5" cy="96.0" r="5.8"/></g>
<path d="M1437.5,184.0 C1438.2,184.0 1440.2,183.9 1441.5,183.8 C1442.8,183.7 1444.2,183.7 1445.5,183.6 C1446.8,183.6 1448.2,183.5 1449.5,183.4 C1450.8,183.4 1452.2,183.3 1453.5,183.3 C1454.8,183.2 1456.2,183.1 1457.5,183.1 C1458.8,183.0 1460.2,183.0 1461.5,182.9 C1462.8,182.8 1464.2,182.8 1465.5,182.7 C1466.8,182.6 1468.2,182.5 1469.5,182.3 C1470.8,182.1 1472.2,181.8 1473.5,181.5 C1474.8,181.2 1476.2,180.8 1477.5,180.4 C1478.8,180.1 1480.2,179.7 1481.5,179.3 C1482.8,178.9 1484.2,178.6 1485.5,178.2 C1486.8,177.8 1488.2,177.4 1489.5,176.9 C1490.8,176.4 1492.2,175.9 1493.5,175.2 C1494.8,174.5 1496.2,173.7 1497.5,172.9 C1498.8,172.0 1500.2,171.1 1501.5,170.2 C1502.8,169.3 1504.2,168.4 1505.5,167.4 C1506.8,166.4 1508.2,165.4 1509.5,164.3 C1510.8,163.1 1512.2,161.9 1513.5,160.7 C1514.8,159.5 1516.2,158.3 1517.5,157.1 C1518.8,155.8 1520.2,154.6 1521.5,153.3 C1522.8,152.1 1524.2,150.8 1525.5,149.5 C1526.8,148.2 1528.2,146.8 1529.5,145.5 C1530.8,144.2 1532.2,142.8 1533.5,141.6 C1534.8,140.3 1536.2,139.0 1537.5,137.8 C1538.8,136.7 1540.2,135.6 1541.5,134.6 C1542.8,133.5 1544.2,132.5 1545.5,131.5 C1546.8,130.5 1548.2,129.5 1549.5,128.7 C1550.8,127.8 1552.2,127.0 1553.5,126.3 C1554.8,125.6 1556.2,125.1 1557.5,124.6 C1558.8,124.1 1560.2,123.7 1561.5,123.3 C1562.8,122.9 1564.2,122.6 1565.5,122.4 C1566.8,122.2 1568.2,122.1 1569.5,122.1 C1570.8,122.1 1572.2,122.1 1573.5,122.3 C1574.8,122.4 1576.2,122.7 1577.5,123.0 C1578.8,123.3 1580.2,123.8 1581.5,124.2 C1582.8,124.7 1584.2,125.2 1585.5,125.8 C1586.8,126.4 1588.2,127.0 1589.5,127.8 C1590.8,128.5 1592.2,129.4 1593.5,130.3 C1594.8,131.1 1596.2,132.0 1597.5,132.9 C1598.8,133.8 1600.2,134.7 1601.5,135.6 C1602.8,136.5 1604.2,137.5 1605.5,138.4 C1606.8,139.3 1608.2,140.3 1609.5,141.3 C1610.8,142.2 1612.2,143.2 1613.5,144.1 C1614.8,145.0 1616.2,146.0 1617.5,146.9 C1618.8,147.8 1620.2,148.6 1621.5,149.4 C1622.8,150.2 1624.2,150.9 1625.5,151.6 C1626.8,152.4 1628.2,153.1 1629.5,153.8 C1630.8,154.5 1632.2,155.2 1633.5,155.8 C1634.8,156.5 1636.2,157.1 1637.5,157.6 C1638.8,158.1 1640.2,158.6 1641.5,159.0 C1642.8,159.4 1644.2,159.7 1645.5,160.1 C1646.8,160.4 1648.2,160.7 1649.5,161.1 C1650.8,161.4 1652.2,161.7 1653.5,162.0 C1654.8,162.3 1656.2,162.5 1657.5,162.7 C1658.8,162.9 1660.2,163.0 1661.5,163.1 C1662.8,163.3 1664.2,163.4 1665.5,163.5 C1666.8,163.7 1668.2,163.8 1669.5,163.9 C1670.8,164.0 1672.2,164.0 1673.5,164.0 C1674.8,164.1 1676.2,164.0 1677.5,164.0 C1678.8,163.9 1680.2,163.8 1681.5,163.7 C1682.8,163.7 1684.2,163.6 1685.5,163.5 C1686.8,163.5 1688.2,163.4 1689.5,163.3 C1690.8,163.3 1692.2,163.2 1693.5,163.2 C1694.8,163.2 1696.2,163.2 1697.5,163.3 C1698.8,163.3 1700.2,163.4 1701.5,163.5 C1702.8,163.6 1704.2,163.7 1705.5,163.8 C1706.8,163.9 1708.2,164.0 1709.5,164.1 C1710.8,164.2 1712.2,164.3 1713.5,164.5 C1714.8,164.6 1716.2,164.8 1717.5,165.0 C1718.8,165.2 1720.2,165.4 1721.5,165.6 C1722.8,165.9 1724.2,166.1 1725.5,166.3 C1726.8,166.6 1728.2,166.8 1729.5,167.0 C1730.8,167.3 1732.2,167.5 1733.5,167.8 C1734.8,168.1 1736.2,168.4 1737.5,168.7 C1738.8,169.0 1740.2,169.3 1741.5,169.6 C1742.8,170.0 1744.2,170.3 1745.5,170.6 C1746.8,171.0 1748.2,171.3 1749.5,171.6 C1750.8,172.0 1752.2,172.3 1753.5,172.7 C1754.8,173.0 1756.2,173.4 1757.5,173.7 C1758.8,174.1 1760.2,174.5 1761.5,174.9 C1762.8,175.3 1764.2,175.6 1765.5,176.0 C1766.8,176.4 1768.2,176.8 1769.5,177.2 C1770.8,177.5 1772.2,177.9 1773.5,178.2 C1774.8,178.6 1776.2,178.9 1777.5,179.2 C1778.8,179.5 1780.2,179.7 1781.5,180.0 C1782.8,180.2 1784.2,180.5 1785.5,180.7 C1786.8,181.0 1788.2,181.2 1789.5,181.5 C1790.8,181.7 1792.2,181.9 1793.5,182.1 C1794.8,182.3 1796.2,182.5 1797.5,182.6 C1798.8,182.8 1800.2,182.9 1801.5,183.0 C1802.8,183.1 1804.2,183.2 1805.5,183.3 C1806.8,183.4 1808.2,183.5 1809.5,183.6 C1810.8,183.7 1812.2,183.8 1813.5,183.8 C1814.8,183.9 1816.2,183.9 1817.5,184.0 C1818.8,184.0 1820.2,184.0 1821.5,184.0 C1822.8,184.0 1824.2,184.0 1825.5,184.0 C1826.8,184.0 1828.2,184.0 1829.5,184.0 C1830.8,184.0 1832.2,184.0 1833.5,184.0 C1834.8,184.0 1836.2,184.0 1837.5,184.0 C1838.8,184.0 1840.7,184.0 1841.5,184.0 C1842.3,184.0 1842.3,184.0 1842.5,184.0 L1842.5,184.0 L1437.5,184.0 Z" fill="#ECAF80" stroke="#111" stroke-width="1.3" stroke-linejoin="round"/>
<path d="M1527.5,184.0 H1557.5 M1641.2,184.0 H1752.0" stroke="#333333" stroke-width="2.4" fill="none"/>
<path d="M1527.5,177.0 V189.5 M1752.0,177.0 V189.5" stroke="#1c1c1c" stroke-width="2.5" fill="none"/>
<rect x="1558.4" y="171.7" width="82.4" height="24.8" fill="#D95F02" stroke="#333333" stroke-width="2.6"/>
<path d="M1585.0,171.8 V196.0" stroke="#333333" stroke-width="4.4"/>
<g fill="#D95F02"><circle cx="1527.5" cy="215.5" r="5.8"/><circle cx="1540.8" cy="216.8" r="5.8"/><circle cx="1546.2" cy="232.5" r="5.8"/><circle cx="1552.0" cy="220.0" r="5.8"/><circle cx="1558.0" cy="213.8" r="5.8"/><circle cx="1566.2" cy="232.0" r="5.8"/><circle cx="1570.8" cy="212.5" r="5.8"/><circle cx="1580.0" cy="228.8" r="5.8"/><circle cx="1585.5" cy="233.8" r="5.8"/><circle cx="1586.2" cy="220.0" r="5.8"/><circle cx="1595.0" cy="214.5" r="5.8"/><circle cx="1610.0" cy="215.5" r="5.8"/><circle cx="1628.0" cy="230.5" r="5.8"/><circle cx="1640.0" cy="222.0" r="5.8"/><circle cx="1668.8" cy="222.5" r="5.8"/><circle cx="1700.0" cy="231.0" r="5.8"/><circle cx="1721.8" cy="227.0" r="5.8"/><circle cx="1752.0" cy="232.0" r="5.8"/></g>
<path d="M1363.8,308.5 C1364.4,308.5 1366.4,308.4 1367.8,308.4 C1369.1,308.3 1370.4,308.3 1371.8,308.3 C1373.1,308.2 1374.4,308.2 1375.8,308.1 C1377.1,308.1 1378.4,308.0 1379.8,308.0 C1381.1,308.0 1382.4,307.9 1383.8,307.9 C1385.1,307.8 1386.4,307.8 1387.8,307.8 C1389.1,307.7 1390.4,307.7 1391.8,307.6 C1393.1,307.6 1394.4,307.6 1395.8,307.5 C1397.1,307.5 1398.4,307.4 1399.8,307.4 C1401.1,307.4 1402.4,307.3 1403.8,307.3 C1405.1,307.2 1406.4,307.2 1407.8,307.1 C1409.1,307.1 1410.4,307.0 1411.8,307.0 C1413.1,306.9 1414.4,306.8 1415.8,306.7 C1417.1,306.7 1418.4,306.6 1419.8,306.5 C1421.1,306.4 1422.4,306.3 1423.8,306.2 C1425.1,306.1 1426.4,306.0 1427.8,305.9 C1429.1,305.8 1430.4,305.7 1431.8,305.6 C1433.1,305.5 1434.4,305.4 1435.8,305.3 C1437.1,305.2 1438.4,305.1 1439.8,305.0 C1441.1,304.9 1442.4,304.8 1443.8,304.7 C1445.1,304.6 1446.4,304.5 1447.8,304.4 C1449.1,304.3 1450.4,304.3 1451.8,304.2 C1453.1,304.1 1454.4,304.1 1455.8,304.0 C1457.1,304.0 1458.4,303.9 1459.8,303.8 C1461.1,303.8 1462.4,303.7 1463.8,303.7 C1465.1,303.6 1466.4,303.6 1467.8,303.5 C1469.1,303.5 1470.4,303.4 1471.8,303.3 C1473.1,303.3 1474.4,303.2 1475.8,303.1 C1477.1,303.1 1478.4,303.0 1479.8,302.8 C1481.1,302.6 1482.4,302.4 1483.8,302.2 C1485.1,301.9 1486.4,301.6 1487.8,301.4 C1489.1,301.1 1490.4,300.8 1491.8,300.5 C1493.1,300.2 1494.4,299.9 1495.8,299.6 C1497.1,299.3 1498.4,298.9 1499.8,298.5 C1501.1,298.0 1502.4,297.4 1503.8,296.9 C1505.1,296.3 1506.4,295.6 1507.8,295.0 C1509.1,294.3 1510.4,293.7 1511.8,293.0 C1513.1,292.4 1514.4,291.7 1515.8,291.0 C1517.1,290.4 1518.4,289.7 1519.8,288.9 C1521.1,288.1 1522.4,287.3 1523.8,286.5 C1525.1,285.7 1526.4,284.8 1527.8,283.9 C1529.1,283.0 1530.4,282.1 1531.8,281.3 C1533.1,280.4 1534.4,279.6 1535.8,278.8 C1537.1,278.0 1538.4,277.3 1539.8,276.7 C1541.1,276.0 1542.4,275.4 1543.8,274.8 C1545.1,274.2 1546.4,273.7 1547.8,273.1 C1549.1,272.6 1550.4,272.0 1551.8,271.5 C1553.1,271.0 1554.4,270.5 1555.8,270.1 C1557.1,269.7 1558.4,269.3 1559.8,269.0 C1561.1,268.7 1562.4,268.4 1563.8,268.1 C1565.1,267.8 1566.4,267.5 1567.8,267.3 C1569.1,267.0 1570.4,266.8 1571.8,266.5 C1573.1,266.3 1574.4,266.2 1575.8,266.0 C1577.1,265.9 1578.4,265.7 1579.8,265.6 C1581.1,265.5 1582.4,265.4 1583.8,265.3 C1585.1,265.2 1586.4,265.0 1587.8,264.9 C1589.1,264.8 1590.4,264.7 1591.8,264.6 C1593.1,264.6 1594.4,264.5 1595.8,264.5 C1597.1,264.5 1598.4,264.4 1599.8,264.4 C1601.1,264.4 1602.4,264.4 1603.8,264.4 C1605.1,264.4 1606.4,264.4 1607.8,264.3 C1609.1,264.3 1610.4,264.3 1611.8,264.3 C1613.1,264.3 1614.4,264.3 1615.8,264.3 C1617.1,264.4 1618.4,264.4 1619.8,264.5 C1621.1,264.6 1622.4,264.7 1623.8,264.8 C1625.1,264.9 1626.4,265.0 1627.8,265.1 C1629.1,265.2 1630.4,265.3 1631.8,265.4 C1633.1,265.5 1634.4,265.6 1635.8,265.7 C1637.1,265.8 1638.4,265.9 1639.8,266.1 C1641.1,266.2 1642.4,266.3 1643.8,266.5 C1645.1,266.6 1646.4,266.8 1647.8,267.0 C1649.1,267.2 1650.4,267.4 1651.8,267.6 C1653.1,267.8 1654.4,268.0 1655.8,268.2 C1657.1,268.4 1658.4,268.5 1659.8,268.8 C1661.1,269.0 1662.4,269.2 1663.8,269.4 C1665.1,269.7 1666.4,270.0 1667.8,270.3 C1669.1,270.6 1670.4,271.0 1671.8,271.4 C1673.1,271.7 1674.4,272.1 1675.8,272.5 C1677.1,272.8 1678.4,273.2 1679.8,273.6 C1681.1,274.0 1682.4,274.3 1683.8,274.8 C1685.1,275.2 1686.4,275.7 1687.8,276.2 C1689.1,276.6 1690.4,277.2 1691.8,277.7 C1693.1,278.2 1694.4,278.8 1695.8,279.3 C1697.1,279.8 1698.4,280.4 1699.8,280.9 C1701.1,281.5 1702.4,282.0 1703.8,282.6 C1705.1,283.1 1706.4,283.7 1707.8,284.3 C1709.1,284.9 1710.4,285.6 1711.8,286.2 C1713.1,286.8 1714.4,287.4 1715.8,288.1 C1717.1,288.7 1718.4,289.3 1719.8,289.9 C1721.1,290.5 1722.4,291.1 1723.8,291.7 C1725.1,292.2 1726.4,292.7 1727.8,293.3 C1729.1,293.8 1730.4,294.3 1731.8,294.8 C1733.1,295.3 1734.4,295.9 1735.8,296.3 C1737.1,296.8 1738.4,297.3 1739.8,297.7 C1741.1,298.1 1742.4,298.4 1743.8,298.7 C1745.1,299.0 1746.4,299.3 1747.8,299.5 C1749.1,299.8 1750.4,300.1 1751.8,300.3 C1753.1,300.6 1754.4,300.9 1755.8,301.1 C1757.1,301.4 1758.4,301.6 1759.8,301.8 C1761.1,302.0 1762.4,302.2 1763.8,302.3 C1765.1,302.5 1766.4,302.6 1767.8,302.8 C1769.1,302.9 1770.4,303.0 1771.8,303.2 C1773.1,303.3 1774.4,303.4 1775.8,303.6 C1777.1,303.7 1778.4,303.8 1779.8,303.9 C1781.1,304.0 1782.4,304.1 1783.8,304.1 C1785.1,304.2 1786.4,304.3 1787.8,304.3 C1789.1,304.4 1790.4,304.4 1791.8,304.5 C1793.1,304.5 1794.4,304.6 1795.8,304.6 C1797.1,304.7 1798.4,304.7 1799.8,304.8 C1801.1,304.9 1802.4,304.9 1803.8,305.0 C1805.1,305.1 1806.4,305.2 1807.8,305.3 C1809.1,305.4 1810.4,305.5 1811.8,305.6 C1813.1,305.7 1814.4,305.8 1815.8,305.9 C1817.1,306.1 1818.4,306.2 1819.8,306.3 C1821.1,306.4 1822.4,306.5 1823.8,306.6 C1825.1,306.7 1826.4,306.8 1827.8,307.0 C1829.1,307.1 1830.4,307.2 1831.8,307.3 C1833.1,307.4 1834.4,307.5 1835.8,307.6 C1837.1,307.7 1838.4,307.8 1839.8,307.8 C1841.1,307.9 1842.4,308.0 1843.8,308.1 C1845.1,308.2 1846.4,308.2 1847.8,308.2 C1849.1,308.3 1850.4,308.3 1851.8,308.3 C1853.1,308.3 1854.4,308.3 1855.8,308.3 C1857.1,308.3 1858.4,308.3 1859.8,308.3 C1861.1,308.3 1862.4,308.3 1863.8,308.3 C1865.1,308.4 1866.4,308.4 1867.8,308.4 C1869.1,308.4 1870.4,308.4 1871.8,308.4 C1873.1,308.4 1874.4,308.4 1875.8,308.4 C1877.1,308.4 1878.4,308.4 1879.8,308.4 C1881.1,308.4 1882.4,308.4 1883.8,308.5 C1885.1,308.5 1886.3,308.5 1887.8,308.5 C1889.2,308.5 1891.7,308.5 1892.5,308.5 L1892.5,308.5 L1363.8,308.5 Z" fill="#8DCEBB" stroke="#111" stroke-width="1.3" stroke-linejoin="round"/>
<path d="M1454.5,308.5 H1569.5 M1673.8,308.5 H1802.0" stroke="#333333" stroke-width="2.4" fill="none"/>
<path d="M1454.5,303.0 V314.5 M1802.0,303.0 V314.5" stroke="#1c1c1c" stroke-width="2.5" fill="none"/>
<rect x="1570.4" y="296.4" width="102.9" height="25.1" fill="#1B9E77" stroke="#333333" stroke-width="2.6"/>
<path d="M1620.0,296.5 V321.0" stroke="#333333" stroke-width="4.4"/>
<g fill="#1B9E77"><circle cx="1454.5" cy="355.0" r="5.8"/><circle cx="1525.0" cy="346.2" r="5.8"/><circle cx="1535.0" cy="355.0" r="5.8"/><circle cx="1542.5" cy="352.0" r="5.8"/><circle cx="1543.8" cy="358.8" r="5.8"/><circle cx="1552.5" cy="343.8" r="5.8"/><circle cx="1553.8" cy="351.2" r="5.8"/><circle cx="1557.5" cy="357.5" r="5.8"/><circle cx="1558.8" cy="333.8" r="5.8"/><circle cx="1568.0" cy="335.5" r="5.8"/><circle cx="1571.2" cy="343.8" r="5.8"/><circle cx="1573.8" cy="349.5" r="5.8"/><circle cx="1590.0" cy="339.2" r="5.8"/><circle cx="1591.2" cy="353.8" r="5.8"/><circle cx="1595.5" cy="347.5" r="5.8"/><circle cx="1608.8" cy="352.0" r="5.8"/><circle cx="1616.2" cy="341.2" r="5.8"/><circle cx="1620.0" cy="346.2" r="5.8"/><circle cx="1626.2" cy="336.2" r="5.8"/><circle cx="1635.0" cy="341.2" r="5.8"/><circle cx="1640.5" cy="334.2" r="5.8"/><circle cx="1645.0" cy="342.0" r="5.8"/><circle cx="1658.8" cy="337.5" r="5.8"/><circle cx="1662.5" cy="351.2" r="5.8"/><circle cx="1673.0" cy="336.2" r="5.8"/><circle cx="1672.5" cy="353.8" r="5.8"/><circle cx="1680.0" cy="343.8" r="5.8"/><circle cx="1691.2" cy="343.0" r="5.8"/><circle cx="1688.8" cy="357.0" r="5.8"/><circle cx="1701.2" cy="356.2" r="5.8"/><circle cx="1720.0" cy="354.2" r="5.8"/><circle cx="1751.2" cy="355.0" r="5.8"/><circle cx="1802.0" cy="349.5" r="5.8"/><circle cx="1612.5" cy="347.5" r="5.8"/><circle cx="1630.0" cy="337.5" r="5.8"/><circle cx="1648.8" cy="340.0" r="5.8"/><circle cx="1665.0" cy="345.0" r="5.8"/><circle cx="1677.5" cy="340.0" r="5.8"/><circle cx="1670.0" cy="347.5" r="5.8"/><circle cx="1556.2" cy="340.0" r="5.8"/><circle cx="1563.8" cy="338.8" r="5.8"/><circle cx="1538.8" cy="356.2" r="5.8"/></g>
<path d="M217.0,628.8 C217.7,628.6 219.7,628.2 221.0,628.0 C222.3,627.7 223.7,627.5 225.0,627.3 C226.3,627.1 227.7,626.8 229.0,626.6 C230.3,626.3 231.7,626.1 233.0,625.8 C234.3,625.5 235.7,625.2 237.0,624.9 C238.3,624.6 239.7,624.2 241.0,623.8 C242.3,623.5 243.7,623.1 245.0,622.7 C246.3,622.4 247.7,622.0 249.0,621.7 C250.3,621.3 251.7,620.9 253.0,620.6 C254.3,620.2 255.7,619.9 257.0,619.5 C258.3,619.2 259.7,618.8 261.0,618.5 C262.3,618.2 263.7,617.8 265.0,617.5 C266.3,617.2 267.7,616.8 269.0,616.5 C270.3,616.2 271.7,615.8 273.0,615.5 C274.3,615.2 275.7,614.8 277.0,614.5 C278.3,614.1 279.7,613.8 281.0,613.4 C282.3,613.0 283.7,612.6 285.0,612.2 C286.3,611.9 287.7,611.4 289.0,611.0 C290.3,610.7 291.7,610.2 293.0,609.8 C294.3,609.5 295.7,609.0 297.0,608.7 C298.3,608.3 299.7,607.9 301.0,607.5 C302.3,607.1 303.7,606.7 305.0,606.3 C306.3,605.9 307.7,605.5 309.0,605.1 C310.3,604.7 311.7,604.2 313.0,603.9 C314.3,603.5 315.7,603.0 317.0,602.7 C318.3,602.3 319.7,601.8 321.0,601.5 C322.3,601.1 323.7,600.6 325.0,600.3 C326.3,599.9 327.7,599.5 329.0,599.1 C330.3,598.7 331.7,598.4 333.0,598.0 C334.3,597.7 335.7,597.3 337.0,597.0 C338.3,596.7 339.7,596.3 341.0,596.0 C342.3,595.7 343.7,595.4 345.0,595.1 C346.3,594.9 347.7,594.6 349.0,594.4 C350.3,594.2 351.7,594.0 353.0,593.8 C354.3,593.6 355.7,593.4 357.0,593.3 C358.3,593.1 359.7,593.0 361.0,592.9 C362.3,592.8 363.7,592.8 365.0,592.8 C366.3,592.7 367.7,592.8 369.0,592.8 C370.3,592.8 371.7,592.7 373.0,592.8 C374.3,592.8 375.7,592.8 377.0,592.9 C378.3,593.0 379.7,593.1 381.0,593.2 C382.3,593.4 383.7,593.6 385.0,593.7 C386.3,593.9 387.7,594.1 389.0,594.2 C390.3,594.4 391.7,594.6 393.0,594.7 C394.3,594.8 395.7,594.9 397.0,595.0 C398.3,595.1 399.7,595.2 401.0,595.2 C402.3,595.3 403.7,595.3 405.0,595.4 C406.3,595.4 407.7,595.5 409.0,595.5 C410.3,595.6 411.7,595.6 413.0,595.7 C414.3,595.7 415.7,595.7 417.0,595.7 C418.3,595.7 419.7,595.7 421.0,595.7 C422.3,595.8 423.7,595.7 425.0,595.8 C426.3,595.8 427.7,595.7 429.0,595.8 C430.3,595.8 431.7,595.8 433.0,595.8 C434.3,595.9 435.7,595.9 437.0,596.1 C438.3,596.2 439.7,596.3 441.0,596.5 C442.3,596.6 443.7,596.8 445.0,596.9 C446.3,597.1 447.7,597.3 449.0,597.5 C450.3,597.7 451.7,598.0 453.0,598.3 C454.3,598.6 455.7,598.9 457.0,599.3 C458.3,599.6 459.7,599.9 461.0,600.3 C462.3,600.7 463.7,601.0 465.0,601.5 C466.3,601.9 467.7,602.5 469.0,603.0 C470.3,603.5 471.7,604.1 473.0,604.7 C474.3,605.2 475.7,605.8 477.0,606.4 C478.3,607.0 479.7,607.5 481.0,608.1 C482.3,608.7 483.7,609.3 485.0,609.8 C486.3,610.4 487.7,611.0 489.0,611.5 C490.3,612.1 491.7,612.7 493.0,613.2 C494.3,613.8 495.7,614.4 497.0,614.9 C498.3,615.5 499.7,616.0 501.0,616.5 C502.3,617.1 503.7,617.5 505.0,618.0 C506.3,618.5 507.7,619.0 509.0,619.5 C510.3,619.9 511.7,620.4 513.0,620.9 C514.3,621.3 515.7,621.8 517.0,622.2 C518.3,622.6 519.7,623.0 521.0,623.4 C522.3,623.7 523.7,624.1 525.0,624.4 C526.3,624.8 527.7,625.1 529.0,625.4 C530.3,625.8 531.7,626.1 533.0,626.4 C534.3,626.7 535.7,626.9 537.0,627.1 C538.3,627.3 539.7,627.4 541.0,627.6 C542.3,627.7 543.7,627.9 545.0,628.0 C546.3,628.1 547.7,628.3 549.0,628.4 C550.3,628.5 551.7,628.7 553.0,628.7 C554.3,628.8 555.7,628.9 557.0,629.0 C558.3,629.0 559.7,629.0 561.0,629.1 C562.3,629.1 563.7,629.1 565.0,629.1 C566.3,629.1 567.7,629.2 569.0,629.2 C570.3,629.2 571.7,629.2 573.0,629.2 C574.3,629.2 575.7,629.3 577.0,629.3 C578.3,629.3 579.7,629.3 581.0,629.3 C582.3,629.3 583.7,629.4 585.0,629.4 C586.3,629.4 587.7,629.4 589.0,629.4 C590.3,629.4 592.1,629.5 593.0,629.5 C593.9,629.5 594.2,629.5 594.5,629.5 L594.5,629.5 L217.0,629.5 Z" fill="#BAB7D9" stroke="#111" stroke-width="1.3" stroke-linejoin="round"/>
<path d="M274.5,629.5 H333.2 M443.0,629.5 H501.8" stroke="#333333" stroke-width="2.4" fill="none"/>
<path d="M274.5,623.0 V636.2 M501.8,623.0 V636.2" stroke="#1c1c1c" stroke-width="2.5" fill="none"/>
<rect x="334.1" y="616.4" width="108.4" height="26.8" fill="#7570B3" stroke="#333333" stroke-width="2.6"/>
<path d="M382.0,616.5 V642.8" stroke="#333333" stroke-width="4.4"/>
<g fill="#7570B3"><circle cx="274.5" cy="662.5" r="5.8"/><circle cx="286.8" cy="660.5" r="5.8"/><circle cx="328.0" cy="658.8" r="5.8"/><circle cx="334.5" cy="658.8" r="5.8"/><circle cx="328.0" cy="682.0" r="5.8"/><circle cx="334.5" cy="677.5" r="5.8"/><circle cx="363.8" cy="675.0" r="5.8"/><circle cx="370.0" cy="666.2" r="5.8"/><circle cx="371.2" cy="673.8" r="5.8"/><circle cx="382.5" cy="657.0" r="5.8"/><circle cx="400.0" cy="658.8" r="5.8"/><circle cx="400.0" cy="678.8" r="5.8"/><circle cx="435.5" cy="656.2" r="5.8"/><circle cx="441.2" cy="662.5" r="5.8"/><circle cx="442.5" cy="670.0" r="5.8"/><circle cx="448.0" cy="671.2" r="5.8"/><circle cx="465.8" cy="669.2" r="5.8"/><circle cx="484.0" cy="660.0" r="5.8"/><circle cx="501.8" cy="674.5" r="5.8"/></g>
<path d="M217.0,758.8 C217.7,758.5 219.7,757.8 221.0,757.4 C222.3,757.0 223.7,756.6 225.0,756.2 C226.3,755.8 227.7,755.3 229.0,754.9 C230.3,754.5 231.7,754.1 233.0,753.6 C234.3,753.1 235.7,752.7 237.0,752.2 C238.3,751.7 239.7,751.2 241.0,750.7 C242.3,750.2 243.7,749.7 245.0,749.1 C246.3,748.6 247.7,748.1 249.0,747.5 C250.3,746.9 251.7,746.2 253.0,745.5 C254.3,744.7 255.7,743.7 257.0,742.8 C258.3,741.9 259.7,740.9 261.0,739.9 C262.3,738.8 263.7,737.8 265.0,736.7 C266.3,735.6 267.7,734.4 269.0,733.1 C270.3,731.8 271.7,730.3 273.0,728.9 C274.3,727.5 275.7,726.0 277.0,724.5 C278.3,723.0 279.7,721.5 281.0,720.0 C282.3,718.4 283.7,716.8 285.0,715.2 C286.3,713.7 287.7,712.1 289.0,710.6 C290.3,709.1 291.7,707.6 293.0,706.4 C294.3,705.1 295.7,703.9 297.0,702.8 C298.3,701.8 299.7,700.7 301.0,699.9 C302.3,699.0 303.7,698.3 305.0,697.8 C306.3,697.2 307.7,696.8 309.0,696.6 C310.3,696.3 311.7,696.2 313.0,696.2 C314.3,696.3 315.7,696.5 317.0,696.8 C318.3,697.2 319.7,697.6 321.0,698.1 C322.3,698.7 323.7,699.2 325.0,699.9 C326.3,700.5 327.7,701.3 329.0,702.0 C330.3,702.8 331.7,703.6 333.0,704.4 C334.3,705.3 335.7,706.1 337.0,706.9 C338.3,707.8 339.7,708.6 341.0,709.5 C342.3,710.3 343.7,711.2 345.0,712.1 C346.3,713.0 347.7,713.9 349.0,714.8 C350.3,715.7 351.7,716.6 353.0,717.6 C354.3,718.6 355.7,719.6 357.0,720.7 C358.3,721.9 359.7,723.1 361.0,724.3 C362.3,725.5 363.7,726.7 365.0,727.9 C366.3,729.2 367.7,730.4 369.0,731.7 C370.3,732.9 371.7,734.2 373.0,735.5 C374.3,736.8 375.7,738.2 377.0,739.5 C378.3,740.8 379.7,742.2 381.0,743.4 C382.3,744.7 383.7,745.9 385.0,747.0 C386.3,748.1 387.7,749.1 389.0,750.0 C390.3,750.9 391.7,751.8 393.0,752.5 C394.3,753.3 395.7,754.1 397.0,754.6 C398.3,755.2 399.7,755.6 401.0,755.9 C402.3,756.3 403.7,756.5 405.0,756.6 C406.3,756.8 407.7,757.0 409.0,757.0 C410.3,757.0 411.7,756.9 413.0,756.8 C414.3,756.6 415.7,756.3 417.0,756.1 C418.3,755.8 419.7,755.6 421.0,755.3 C422.3,755.0 423.7,754.7 425.0,754.4 C426.3,754.0 427.7,753.7 429.0,753.3 C430.3,752.9 431.7,752.5 433.0,752.1 C434.3,751.7 435.7,751.3 437.0,750.9 C438.3,750.5 439.7,750.2 441.0,749.8 C442.3,749.5 443.7,749.1 445.0,748.8 C446.3,748.5 447.7,748.2 449.0,747.9 C450.3,747.6 451.7,747.3 453.0,747.1 C454.3,746.9 455.7,746.7 457.0,746.6 C458.3,746.4 459.7,746.3 461.0,746.2 C462.3,746.1 463.7,746.0 465.0,746.0 C466.3,746.0 467.7,746.1 469.0,746.2 C470.3,746.3 471.7,746.4 473.0,746.6 C474.3,746.8 475.7,746.9 477.0,747.2 C478.3,747.5 479.7,747.9 481.0,748.2 C482.3,748.6 483.7,749.1 485.0,749.5 C486.3,749.9 487.7,750.4 489.0,750.8 C490.3,751.3 491.7,751.8 493.0,752.2 C494.3,752.7 495.7,753.2 497.0,753.7 C498.3,754.1 499.7,754.6 501.0,755.1 C502.3,755.6 503.7,756.1 505.0,756.5 C506.3,756.9 507.7,757.3 509.0,757.6 C510.3,757.9 511.7,758.2 513.0,758.4 C514.3,758.6 515.7,758.9 517.0,759.1 C518.3,759.3 519.7,759.5 521.0,759.6 C522.3,759.8 523.7,759.9 525.0,760.0 C526.3,760.1 527.7,760.1 529.0,760.1 C530.3,760.2 531.7,760.2 533.0,760.2 C534.3,760.3 535.7,760.3 537.0,760.3 C538.3,760.4 539.9,760.4 541.0,760.4 C542.1,760.4 543.3,760.5 543.8,760.5 L543.8,760.5 L217.0,760.5 Z" fill="#ECAF80" stroke="#111" stroke-width="1.3" stroke-linejoin="round"/>
<path d="M245.5,760.5 H304.5 M359.5,760.5 H365.0" stroke="#333333" stroke-width="2.4" fill="none"/>
<path d="M245.5,754.5 V767.0 M365.0,754.5 V767.0" stroke="#1c1c1c" stroke-width="2.5" fill="none"/>
<rect x="305.4" y="747.1" width="53.6" height="26.8" fill="#D95F02" stroke="#333333" stroke-width="2.6"/>
<path d="M322.5,747.2 V773.5" stroke="#333333" stroke-width="4.4"/>
<g fill="#D95F02"><circle cx="245.0" cy="811.2" r="5.8"/><circle cx="274.5" cy="811.2" r="5.8"/><circle cx="281.2" cy="809.5" r="5.8"/><circle cx="292.5" cy="800.5" r="5.8"/><circle cx="298.8" cy="801.2" r="5.8"/><circle cx="305.0" cy="801.2" r="5.8"/><circle cx="305.0" cy="812.5" r="5.8"/><circle cx="316.2" cy="799.5" r="5.8"/><circle cx="316.2" cy="808.0" r="5.8"/><circle cx="323.8" cy="802.0" r="5.8"/><circle cx="328.0" cy="807.5" r="5.8"/><circle cx="328.2" cy="788.8" r="5.8"/><circle cx="340.8" cy="790.5" r="5.8"/><circle cx="352.5" cy="795.0" r="5.8"/><circle cx="358.8" cy="790.5" r="5.8"/><circle cx="365.0" cy="803.0" r="5.8"/><circle cx="442.0" cy="809.5" r="5.8"/><circle cx="465.5" cy="811.2" r="5.8"/><circle cx="484.0" cy="801.8" r="5.8"/></g>
<path d="M225.9,892.0 C226.6,892.0 228.6,891.8 229.9,891.7 C231.2,891.7 232.6,891.6 233.9,891.5 C235.2,891.4 236.6,891.4 237.9,891.3 C239.2,891.2 240.6,891.1 241.9,890.9 C243.2,890.7 244.6,890.5 245.9,890.3 C247.2,890.0 248.6,889.7 249.9,889.4 C251.2,889.1 252.6,888.8 253.9,888.5 C255.2,888.2 256.6,887.9 257.9,887.5 C259.2,887.1 260.6,886.8 261.9,886.3 C263.2,885.9 264.6,885.3 265.9,884.7 C267.2,884.2 268.6,883.5 269.9,882.8 C271.2,882.2 272.6,881.5 273.9,880.8 C275.2,880.1 276.6,879.4 277.9,878.6 C279.2,877.8 280.6,876.9 281.9,875.9 C283.2,875.0 284.6,873.9 285.9,872.9 C287.2,871.8 288.6,870.8 289.9,869.7 C291.2,868.6 292.6,867.6 293.9,866.5 C295.2,865.4 296.6,864.4 297.9,863.3 C299.2,862.2 300.6,861.2 301.9,860.1 C303.2,859.1 304.6,858.0 305.9,857.1 C307.2,856.2 308.6,855.3 309.9,854.5 C311.2,853.7 312.6,852.9 313.9,852.2 C315.2,851.4 316.6,850.7 317.9,850.1 C319.2,849.4 320.6,848.9 321.9,848.4 C323.2,847.9 324.6,847.6 325.9,847.3 C327.2,847.0 328.6,846.7 329.9,846.5 C331.2,846.2 332.6,846.0 333.9,845.7 C335.2,845.5 336.6,845.3 337.9,845.2 C339.2,845.0 340.6,845.0 341.9,844.9 C343.2,844.8 344.6,844.8 345.9,844.8 C347.2,844.7 348.6,844.7 349.9,844.7 C351.2,844.6 352.6,844.6 353.9,844.6 C355.2,844.6 356.6,844.5 357.9,844.5 C359.2,844.5 360.6,844.5 361.9,844.5 C363.2,844.5 364.6,844.5 365.9,844.5 C367.2,844.5 368.6,844.5 369.9,844.5 C371.2,844.5 372.6,844.5 373.9,844.7 C375.2,844.8 376.6,844.9 377.9,845.1 C379.2,845.4 380.6,845.7 381.9,846.0 C383.2,846.3 384.6,846.6 385.9,847.0 C387.2,847.4 388.6,847.8 389.9,848.3 C391.2,848.8 392.6,849.4 393.9,850.0 C395.2,850.6 396.6,851.3 397.9,852.0 C399.2,852.6 400.6,853.3 401.9,854.0 C403.2,854.7 404.6,855.5 405.9,856.2 C407.2,857.0 408.6,857.8 409.9,858.6 C411.2,859.4 412.6,860.2 413.9,861.0 C415.2,861.7 416.6,862.5 417.9,863.2 C419.2,863.9 420.6,864.5 421.9,865.1 C423.2,865.7 424.6,866.4 425.9,866.9 C427.2,867.5 428.6,868.1 429.9,868.6 C431.2,869.0 432.6,869.5 433.9,869.8 C435.2,870.2 436.6,870.5 437.9,870.8 C439.2,871.1 440.6,871.5 441.9,871.7 C443.2,872.0 444.6,872.3 445.9,872.6 C447.2,872.8 448.6,873.0 449.9,873.2 C451.2,873.4 452.6,873.5 453.9,873.7 C455.2,873.8 456.6,873.9 457.9,874.1 C459.2,874.3 460.6,874.4 461.9,874.6 C463.2,874.8 464.6,875.0 465.9,875.3 C467.2,875.5 468.6,875.8 469.9,876.1 C471.2,876.5 472.6,876.8 473.9,877.1 C475.2,877.4 476.6,877.7 477.9,878.1 C479.2,878.5 480.6,878.9 481.9,879.3 C483.2,879.8 484.6,880.3 485.9,880.8 C487.2,881.2 488.6,881.8 489.9,882.3 C491.2,882.8 492.6,883.3 493.9,883.8 C495.2,884.3 496.6,884.8 497.9,885.2 C499.2,885.7 500.6,886.2 501.9,886.6 C503.2,887.1 504.6,887.6 505.9,888.0 C507.2,888.4 508.6,888.8 509.9,889.2 C511.2,889.5 512.6,889.8 513.9,890.0 C515.2,890.2 516.6,890.4 517.9,890.6 C519.2,890.8 520.6,890.9 521.9,891.1 C523.2,891.3 524.6,891.4 525.9,891.5 C527.2,891.7 528.6,891.7 529.9,891.8 C531.2,891.8 532.6,891.8 533.9,891.9 C535.2,891.9 536.6,891.9 537.9,891.9 C539.2,891.9 540.6,891.9 541.9,892.0 C543.2,892.0 545.1,892.0 545.7,892.0 L545.7,892.0 L225.9,892.0 Z" fill="#8DCEBB" stroke="#111" stroke-width="1.3" stroke-linejoin="round"/>
<path d="M292.7,892.0 H327.6 M397.2,892.0 H478.4" stroke="#333333" stroke-width="2.4" fill="none"/>
<path d="M292.7,886.3 V898.6 M478.4,886.3 V898.6" stroke="#1c1c1c" stroke-width="2.5" fill="none"/>
<rect x="328.5" y="879.7" width="68.2" height="26.1" fill="#1B9E77" stroke="#333333" stroke-width="2.6"/>
<path d="M364.8,879.8 V905.3" stroke="#333333" stroke-width="4.4"/>
<g fill="#1B9E77"><circle cx="311.1" cy="919.8" r="5.8"/><circle cx="334.5" cy="920.6" r="5.8"/><circle cx="291.9" cy="934.4" r="5.8"/><circle cx="298.8" cy="935.8" r="5.8"/><circle cx="298.8" cy="942.6" r="5.8"/><circle cx="316.6" cy="938.0" r="5.8"/><circle cx="323.5" cy="934.4" r="5.8"/><circle cx="330.4" cy="930.3" r="5.8"/><circle cx="327.6" cy="944.0" r="5.8"/><circle cx="335.9" cy="941.3" r="5.8"/><circle cx="346.9" cy="926.1" r="5.8"/><circle cx="352.4" cy="925.6" r="5.8"/><circle cx="346.9" cy="937.1" r="5.8"/><circle cx="357.9" cy="934.4" r="5.8"/><circle cx="363.4" cy="931.6" r="5.8"/><circle cx="364.8" cy="945.4" r="5.8"/><circle cx="370.3" cy="941.3" r="5.8"/><circle cx="376.6" cy="926.7" r="5.8"/><circle cx="388.2" cy="921.2" r="5.8"/><circle cx="390.9" cy="928.9" r="5.8"/><circle cx="388.2" cy="935.8" r="5.8"/><circle cx="395.0" cy="938.5" r="5.8"/><circle cx="400.5" cy="933.0" r="5.8"/><circle cx="406.0" cy="936.3" r="5.8"/><circle cx="412.4" cy="920.6" r="5.8"/><circle cx="430.2" cy="924.8" r="5.8"/><circle cx="435.7" cy="937.7" r="5.8"/><circle cx="447.8" cy="927.5" r="5.8"/><circle cx="459.7" cy="941.8" r="5.8"/><circle cx="466.0" cy="920.6" r="5.8"/><circle cx="478.9" cy="919.8" r="5.8"/><circle cx="477.5" cy="928.9" r="5.8"/><circle cx="323.5" cy="941.3" r="5.8"/><circle cx="359.3" cy="938.5" r="5.8"/><circle cx="384.0" cy="931.6" r="5.8"/><circle cx="395.0" cy="930.3" r="5.8"/><circle cx="368.9" cy="935.8" r="5.8"/><circle cx="312.5" cy="933.0" r="5.8"/><circle cx="337.3" cy="933.0" r="5.8"/><circle cx="397.8" cy="924.8" r="5.8"/></g>
<path d="M696.0,611.0 C696.7,611.0 698.7,610.9 700.0,610.8 C701.3,610.8 702.7,610.8 704.0,610.7 C705.3,610.7 706.7,610.6 708.0,610.6 C709.3,610.5 710.7,610.5 712.0,610.4 C713.3,610.4 714.7,610.3 716.0,610.3 C717.3,610.2 718.7,610.2 720.0,610.1 C721.3,610.1 722.7,610.0 724.0,610.0 C725.3,609.9 726.7,609.9 728.0,609.8 C729.3,609.8 730.7,609.8 732.0,609.7 C733.3,609.7 734.7,609.6 736.0,609.6 C737.3,609.5 738.7,609.5 740.0,609.4 C741.3,609.3 742.7,609.2 744.0,609.1 C745.3,608.9 746.7,608.7 748.0,608.5 C749.3,608.3 750.7,608.1 752.0,607.9 C753.3,607.7 754.7,607.5 756.0,607.3 C757.3,607.1 758.7,606.9 760.0,606.6 C761.3,606.4 762.7,606.2 764.0,606.0 C765.3,605.8 766.7,605.6 768.0,605.4 C769.3,605.2 770.7,605.0 772.0,604.7 C773.3,604.5 774.7,604.3 776.0,604.0 C777.3,603.8 778.7,603.5 780.0,603.3 C781.3,603.0 782.7,602.7 784.0,602.4 C785.3,602.1 786.7,601.8 788.0,601.5 C789.3,601.2 790.7,600.9 792.0,600.6 C793.3,600.4 794.7,600.1 796.0,599.8 C797.3,599.5 798.7,599.2 800.0,598.9 C801.3,598.6 802.7,598.3 804.0,598.0 C805.3,597.7 806.7,597.4 808.0,597.0 C809.3,596.7 810.7,596.3 812.0,595.9 C813.3,595.4 814.7,594.9 816.0,594.4 C817.3,594.0 818.7,593.5 820.0,593.0 C821.3,592.5 822.7,592.0 824.0,591.5 C825.3,591.0 826.7,590.5 828.0,590.0 C829.3,589.5 830.7,589.0 832.0,588.4 C833.3,587.9 834.7,587.4 836.0,586.8 C837.3,586.3 838.7,585.6 840.0,585.0 C841.3,584.4 842.7,583.7 844.0,583.0 C845.3,582.4 846.7,581.7 848.0,581.0 C849.3,580.4 850.7,579.7 852.0,579.0 C853.3,578.3 854.7,577.7 856.0,577.0 C857.3,576.3 858.7,575.7 860.0,575.0 C861.3,574.3 862.7,573.7 864.0,573.0 C865.3,572.3 866.7,571.7 868.0,571.0 C869.3,570.3 870.7,569.7 872.0,569.0 C873.3,568.3 874.7,567.7 876.0,567.1 C877.3,566.4 878.7,565.8 880.0,565.3 C881.3,564.8 882.7,564.4 884.0,564.0 C885.3,563.6 886.7,563.3 888.0,562.9 C889.3,562.6 890.7,562.2 892.0,561.9 C893.3,561.6 894.7,561.4 896.0,561.2 C897.3,561.0 898.7,560.9 900.0,560.8 C901.3,560.7 902.7,560.7 904.0,560.7 C905.3,560.7 906.7,560.7 908.0,560.8 C909.3,560.9 910.7,561.0 912.0,561.2 C913.3,561.4 914.7,561.7 916.0,561.9 C917.3,562.1 918.7,562.4 920.0,562.7 C921.3,562.9 922.7,563.2 924.0,563.5 C925.3,563.8 926.7,564.1 928.0,564.5 C929.3,564.8 930.7,565.2 932.0,565.6 C933.3,566.0 934.7,566.4 936.0,566.8 C937.3,567.2 938.7,567.6 940.0,568.0 C941.3,568.4 942.7,568.8 944.0,569.2 C945.3,569.6 946.7,570.0 948.0,570.4 C949.3,570.8 950.7,571.2 952.0,571.6 C953.3,572.0 954.7,572.4 956.0,572.8 C957.3,573.2 958.7,573.6 960.0,574.0 C961.3,574.4 962.7,574.8 964.0,575.2 C965.3,575.6 966.7,575.9 968.0,576.3 C969.3,576.6 970.7,577.0 972.0,577.3 C973.3,577.7 974.7,578.0 976.0,578.3 C977.3,578.7 978.7,579.0 980.0,579.3 C981.3,579.6 982.7,580.0 984.0,580.3 C985.3,580.5 986.7,580.8 988.0,581.0 C989.3,581.2 990.7,581.4 992.0,581.5 C993.3,581.7 994.7,581.8 996.0,581.9 C997.3,582.1 998.7,582.2 1000.0,582.3 C1001.3,582.4 1002.7,582.6 1004.0,582.7 C1005.3,582.8 1006.7,583.0 1008.0,583.1 C1009.3,583.1 1010.7,583.2 1012.0,583.3 C1013.3,583.3 1014.7,583.4 1016.0,583.4 C1017.3,583.4 1018.7,583.4 1020.0,583.4 C1021.3,583.5 1022.7,583.5 1024.0,583.5 C1025.3,583.5 1026.7,583.5 1028.0,583.6 C1029.3,583.6 1030.7,583.6 1032.0,583.6 C1033.3,583.7 1034.7,583.7 1036.0,583.8 C1037.3,583.9 1038.7,584.0 1040.0,584.1 C1041.3,584.2 1042.7,584.4 1044.0,584.5 C1045.3,584.7 1046.7,584.8 1048.0,585.0 C1049.3,585.2 1050.7,585.3 1052.0,585.5 C1053.3,585.7 1054.7,585.9 1056.0,586.1 C1057.3,586.4 1058.7,586.7 1060.0,587.0 C1061.3,587.3 1062.7,587.7 1064.0,588.1 C1065.3,588.5 1066.7,588.8 1068.0,589.2 C1069.3,589.6 1070.7,590.0 1072.0,590.4 C1073.3,590.8 1074.7,591.2 1076.0,591.6 C1077.3,592.0 1078.7,592.4 1080.0,592.9 C1081.3,593.4 1082.7,593.8 1084.0,594.3 C1085.3,594.8 1086.7,595.3 1088.0,595.7 C1089.3,596.2 1090.7,596.7 1092.0,597.1 C1093.3,597.6 1094.7,598.1 1096.0,598.6 C1097.3,599.0 1098.7,599.5 1100.0,599.9 C1101.3,600.4 1102.7,600.8 1104.0,601.2 C1105.3,601.6 1106.7,602.0 1108.0,602.4 C1109.3,602.8 1110.7,603.2 1112.0,603.6 C1113.3,604.0 1114.7,604.4 1116.0,604.8 C1117.3,605.1 1118.7,605.5 1120.0,605.8 C1121.3,606.2 1122.7,606.4 1124.0,606.7 C1125.3,607.0 1126.7,607.2 1128.0,607.5 C1129.3,607.7 1130.7,608.0 1132.0,608.2 C1133.3,608.5 1134.7,608.7 1136.0,608.9 C1137.3,609.2 1138.7,609.4 1140.0,609.5 C1141.3,609.7 1142.7,609.8 1144.0,609.9 C1145.3,610.0 1146.7,610.1 1148.0,610.2 C1149.3,610.3 1150.7,610.4 1152.0,610.5 C1153.3,610.6 1154.7,610.7 1156.0,610.7 C1157.3,610.8 1158.7,610.9 1160.0,610.9 C1161.3,611.0 1162.7,611.0 1164.0,611.0 C1165.3,611.0 1166.7,611.0 1168.0,611.0 C1169.3,611.0 1170.7,611.0 1172.0,611.0 C1173.3,611.0 1174.7,611.0 1176.0,611.0 C1177.3,611.0 1178.7,611.0 1180.0,611.0 C1181.3,611.0 1182.7,611.0 1184.0,611.0 C1185.3,611.0 1187.0,611.0 1188.0,611.0 C1189.0,611.0 1189.7,611.0 1190.0,611.0 L1190.0,611.0 L696.0,611.0 Z" fill="#BAB7D9" stroke="#111" stroke-width="1.3" stroke-linejoin="round"/>
<path d="M808.3,611.0 H888.3 M996.7,611.0 H1077.7" stroke="#333333" stroke-width="2.4" fill="none"/>
<path d="M808.3,605.7 V617.7 M1077.7,605.7 V617.7" stroke="#1c1c1c" stroke-width="2.5" fill="none"/>
<rect x="889.2" y="599.9" width="107.0" height="23.9" fill="#7570B3" stroke="#333333" stroke-width="2.6"/>
<path d="M916.0,600.0 V623.3" stroke="#333333" stroke-width="4.4"/>
<g fill="#7570B3"><circle cx="808.2" cy="648.3" r="5.8"/><circle cx="835.1" cy="647.3" r="5.8"/><circle cx="862.0" cy="651.7" r="5.8"/><circle cx="889.0" cy="651.7" r="5.8"/><circle cx="889.0" cy="660.7" r="5.8"/><circle cx="915.9" cy="638.3" r="5.8"/><circle cx="915.9" cy="655.0" r="5.8"/><circle cx="942.8" cy="654.3" r="5.8"/><circle cx="942.8" cy="660.0" r="5.8"/><circle cx="969.7" cy="636.7" r="5.8"/><circle cx="969.7" cy="658.7" r="5.8"/><circle cx="996.6" cy="650.0" r="5.8"/><circle cx="1023.6" cy="642.3" r="5.8"/><circle cx="1050.5" cy="638.7" r="5.8"/><circle cx="1050.5" cy="650.0" r="5.8"/><circle cx="1050.5" cy="655.0" r="5.8"/><circle cx="1077.4" cy="656.0" r="5.8"/></g>
<path d="M687.7,736.7 C688.4,736.7 690.4,736.6 691.7,736.6 C693.0,736.5 694.4,736.5 695.7,736.4 C697.0,736.4 698.4,736.3 699.7,736.3 C701.0,736.3 702.4,736.2 703.7,736.2 C705.0,736.1 706.4,736.1 707.7,736.0 C709.0,736.0 710.4,735.9 711.7,735.9 C713.0,735.9 714.4,735.8 715.7,735.8 C717.0,735.7 718.4,735.7 719.7,735.6 C721.0,735.6 722.4,735.5 723.7,735.5 C725.0,735.5 726.4,735.4 727.7,735.4 C729.0,735.3 730.4,735.3 731.7,735.2 C733.0,735.2 734.4,735.2 735.7,735.1 C737.0,735.1 738.4,735.0 739.7,735.0 C741.0,734.9 742.4,734.9 743.7,734.8 C745.0,734.8 746.4,734.8 747.7,734.7 C749.0,734.7 750.4,734.6 751.7,734.6 C753.0,734.5 754.4,734.5 755.7,734.4 C757.0,734.4 758.4,734.3 759.7,734.2 C761.0,734.0 762.4,733.9 763.7,733.7 C765.0,733.5 766.4,733.3 767.7,733.1 C769.0,732.9 770.4,732.7 771.7,732.5 C773.0,732.3 774.4,732.1 775.7,731.9 C777.0,731.7 778.4,731.5 779.7,731.3 C781.0,731.1 782.4,730.9 783.7,730.7 C785.0,730.5 786.4,730.3 787.7,730.1 C789.0,729.9 790.4,729.7 791.7,729.5 C793.0,729.3 794.4,729.1 795.7,728.9 C797.0,728.7 798.4,728.5 799.7,728.3 C801.0,728.1 802.4,727.9 803.7,727.7 C805.0,727.5 806.4,727.3 807.7,727.1 C809.0,726.9 810.4,726.7 811.7,726.5 C813.0,726.3 814.4,726.1 815.7,725.9 C817.0,725.7 818.4,725.5 819.7,725.3 C821.0,725.1 822.4,724.9 823.7,724.7 C825.0,724.5 826.4,724.3 827.7,724.1 C829.0,723.9 830.4,723.7 831.7,723.5 C833.0,723.3 834.4,723.1 835.7,723.0 C837.0,722.8 838.4,722.6 839.7,722.4 C841.0,722.2 842.4,722.0 843.7,721.9 C845.0,721.7 846.4,721.6 847.7,721.4 C849.0,721.3 850.4,721.1 851.7,721.0 C853.0,720.8 854.4,720.6 855.7,720.5 C857.0,720.3 858.4,720.2 859.7,720.0 C861.0,719.9 862.4,719.7 863.7,719.6 C865.0,719.4 866.4,719.3 867.7,719.1 C869.0,719.0 870.4,718.8 871.7,718.7 C873.0,718.5 874.4,718.3 875.7,718.2 C877.0,718.1 878.4,717.9 879.7,717.8 C881.0,717.7 882.4,717.6 883.7,717.6 C885.0,717.5 886.4,717.4 887.7,717.4 C889.0,717.3 890.4,717.3 891.7,717.2 C893.0,717.1 894.4,717.1 895.7,717.0 C897.0,717.0 898.4,716.9 899.7,716.9 C901.0,716.8 902.4,716.7 903.7,716.7 C905.0,716.6 906.4,716.6 907.7,716.5 C909.0,716.5 910.4,716.4 911.7,716.4 C913.0,716.3 914.4,716.2 915.7,716.2 C917.0,716.1 918.4,716.1 919.7,716.0 C921.0,715.9 922.4,715.9 923.7,715.8 C925.0,715.7 926.4,715.7 927.7,715.6 C929.0,715.5 930.4,715.5 931.7,715.4 C933.0,715.3 934.4,715.3 935.7,715.2 C937.0,715.1 938.4,715.1 939.7,715.0 C941.0,714.9 942.4,714.9 943.7,714.8 C945.0,714.7 946.4,714.7 947.7,714.6 C949.0,714.5 950.4,714.4 951.7,714.3 C953.0,714.2 954.4,714.1 955.7,713.9 C957.0,713.7 958.4,713.5 959.7,713.3 C961.0,713.1 962.4,712.9 963.7,712.7 C965.0,712.5 966.4,712.3 967.7,712.1 C969.0,711.9 970.4,711.7 971.7,711.5 C973.0,711.3 974.4,711.1 975.7,710.9 C977.0,710.7 978.4,710.5 979.7,710.3 C981.0,710.1 982.4,709.9 983.7,709.7 C985.0,709.5 986.4,709.3 987.7,709.1 C989.0,708.9 990.4,708.7 991.7,708.5 C993.0,708.3 994.4,708.1 995.7,707.9 C997.0,707.7 998.4,707.5 999.7,707.3 C1001.0,707.1 1002.4,706.9 1003.7,706.7 C1005.0,706.5 1006.4,706.3 1007.7,706.1 C1009.0,705.9 1010.4,705.7 1011.7,705.5 C1013.0,705.3 1014.4,705.1 1015.7,704.9 C1017.0,704.8 1018.4,704.6 1019.7,704.4 C1021.0,704.2 1022.4,704.0 1023.7,703.8 C1025.0,703.6 1026.4,703.4 1027.7,703.3 C1029.0,703.1 1030.4,702.9 1031.7,702.7 C1033.0,702.5 1034.4,702.4 1035.7,702.2 C1037.0,702.0 1038.4,701.8 1039.7,701.6 C1041.0,701.5 1042.4,701.3 1043.7,701.1 C1045.0,701.0 1046.4,700.8 1047.7,700.7 C1049.0,700.6 1050.4,700.5 1051.7,700.4 C1053.0,700.3 1054.4,700.2 1055.7,700.1 C1057.0,700.0 1058.4,700.0 1059.7,699.9 C1061.0,699.8 1062.4,699.7 1063.7,699.6 C1065.0,699.5 1066.4,699.4 1067.7,699.4 C1069.0,699.3 1070.4,699.2 1071.7,699.1 C1073.0,699.1 1074.4,699.1 1075.7,699.0 C1077.0,699.0 1078.4,699.0 1079.7,699.0 C1081.0,699.0 1082.4,699.0 1083.7,699.0 C1085.0,699.0 1086.4,699.0 1087.7,699.0 C1089.0,699.0 1090.4,699.0 1091.7,699.1 C1093.0,699.1 1094.4,699.2 1095.7,699.3 C1097.0,699.4 1098.4,699.6 1099.7,699.7 C1101.0,699.9 1102.4,700.0 1103.7,700.2 C1105.0,700.4 1106.4,700.5 1107.7,700.7 C1109.0,700.8 1110.4,701.0 1111.7,701.1 C1113.0,701.3 1114.4,701.5 1115.7,701.7 C1117.0,701.9 1118.4,702.1 1119.7,702.4 C1121.0,702.6 1122.4,702.9 1123.7,703.2 C1125.0,703.5 1126.4,703.8 1127.7,704.1 C1129.0,704.3 1130.4,704.6 1131.7,704.9 C1133.0,705.2 1134.4,705.5 1135.7,705.8 C1137.0,706.1 1138.4,706.4 1139.7,706.8 C1141.0,707.1 1142.4,707.5 1143.7,707.9 C1145.0,708.3 1146.4,708.7 1147.7,709.1 C1149.0,709.5 1150.4,709.9 1151.7,710.4 C1153.0,710.8 1154.4,711.2 1155.7,711.6 C1157.0,712.0 1158.4,712.5 1159.7,712.9 C1161.0,713.3 1162.4,713.7 1163.7,714.2 C1165.0,714.6 1166.4,715.1 1167.7,715.6 C1169.0,716.0 1170.4,716.5 1171.7,717.0 C1173.0,717.5 1174.4,717.9 1175.7,718.4 C1177.0,718.9 1178.4,719.3 1179.7,719.8 C1181.0,720.3 1182.4,720.8 1183.7,721.2 C1185.0,721.7 1186.4,722.1 1187.7,722.5 C1189.0,723.0 1190.4,723.4 1191.7,723.8 C1193.0,724.2 1194.4,724.6 1195.7,725.0 C1197.0,725.4 1198.4,725.8 1199.7,726.2 C1201.0,726.6 1202.4,727.0 1203.7,727.4 C1205.0,727.8 1206.4,728.2 1207.7,728.6 C1209.0,728.9 1210.4,729.3 1211.7,729.6 C1213.0,729.9 1214.4,730.2 1215.7,730.4 C1217.0,730.7 1218.4,731.0 1219.7,731.3 C1221.0,731.5 1222.4,731.8 1223.7,732.1 C1225.0,732.3 1226.4,732.6 1227.7,732.9 C1229.0,733.1 1230.4,733.4 1231.7,733.6 C1233.0,733.8 1234.4,734.0 1235.7,734.1 C1237.0,734.3 1238.4,734.4 1239.7,734.5 C1241.0,734.7 1242.4,734.8 1243.7,734.9 C1245.0,735.0 1246.4,735.1 1247.7,735.2 C1249.0,735.4 1250.4,735.5 1251.7,735.6 C1253.0,735.7 1254.4,735.8 1255.7,735.9 C1257.0,736.0 1258.4,736.1 1259.7,736.2 C1261.0,736.2 1262.4,736.3 1263.7,736.3 C1265.0,736.3 1266.4,736.4 1267.7,736.4 C1269.0,736.4 1270.4,736.4 1271.7,736.4 C1273.0,736.4 1274.4,736.4 1275.7,736.4 C1277.0,736.4 1278.4,736.5 1279.7,736.5 C1281.0,736.5 1282.4,736.5 1283.7,736.5 C1285.0,736.5 1286.4,736.5 1287.7,736.5 C1289.0,736.6 1290.4,736.6 1291.7,736.6 C1293.0,736.6 1294.4,736.6 1295.7,736.6 C1297.0,736.6 1298.4,736.6 1299.7,736.6 C1301.0,736.7 1302.7,736.7 1303.7,736.7 C1304.8,736.7 1305.6,736.7 1306.0,736.7 L1306.0,736.7 L687.7,736.7 Z" fill="#ECAF80" stroke="#111" stroke-width="1.3" stroke-linejoin="round"/>
<path d="M835.0,736.7 H941.7 M1105.0,736.7 H1157.7" stroke="#333333" stroke-width="2.4" fill="none"/>
<path d="M835.0,731.0 V742.7 M1157.7,731.0 V742.7" stroke="#1c1c1c" stroke-width="2.5" fill="none"/>
<rect x="942.6" y="724.2" width="161.9" height="24.6" fill="#D95F02" stroke="#333333" stroke-width="2.6"/>
<path d="M1050.7,724.3 V748.3" stroke="#333333" stroke-width="4.4"/>
<g fill="#D95F02"><circle cx="835.1" cy="771.7" r="5.8"/><circle cx="862.0" cy="768.3" r="5.8"/><circle cx="889.0" cy="772.3" r="5.8"/><circle cx="889.0" cy="777.7" r="5.8"/><circle cx="942.8" cy="766.7" r="5.8"/><circle cx="942.8" cy="770.0" r="5.8"/><circle cx="996.6" cy="771.7" r="5.8"/><circle cx="996.6" cy="777.3" r="5.8"/><circle cx="1023.6" cy="783.3" r="5.8"/><circle cx="1050.5" cy="769.3" r="5.8"/><circle cx="1050.5" cy="775.0" r="5.8"/><circle cx="1050.5" cy="780.7" r="5.8"/><circle cx="1077.4" cy="765.0" r="5.8"/><circle cx="1104.3" cy="761.7" r="5.8"/><circle cx="1104.3" cy="780.0" r="5.8"/><circle cx="1131.2" cy="761.7" r="5.8"/><circle cx="1131.2" cy="768.3" r="5.8"/><circle cx="1131.2" cy="775.0" r="5.8"/><circle cx="1131.2" cy="780.0" r="5.8"/><circle cx="1158.2" cy="767.3" r="5.8"/></g>
<path d="M730.0,861.7 C730.7,861.7 732.7,861.6 734.0,861.5 C735.3,861.5 736.7,861.4 738.0,861.4 C739.3,861.3 740.7,861.3 742.0,861.2 C743.3,861.2 744.7,861.1 746.0,861.1 C747.3,861.0 748.7,861.0 750.0,860.9 C751.3,860.9 752.7,860.8 754.0,860.8 C755.3,860.7 756.7,860.7 758.0,860.6 C759.3,860.5 760.7,860.5 762.0,860.4 C763.3,860.4 764.7,860.3 766.0,860.3 C767.3,860.2 768.7,860.2 770.0,860.1 C771.3,860.0 772.7,859.9 774.0,859.8 C775.3,859.7 776.7,859.6 778.0,859.4 C779.3,859.3 780.7,859.1 782.0,859.0 C783.3,858.8 784.7,858.6 786.0,858.5 C787.3,858.3 788.7,858.2 790.0,858.0 C791.3,857.8 792.7,857.7 794.0,857.5 C795.3,857.4 796.7,857.2 798.0,857.0 C799.3,856.9 800.7,856.7 802.0,856.6 C803.3,856.4 804.7,856.3 806.0,856.1 C807.3,856.0 808.7,855.9 810.0,855.8 C811.3,855.7 812.7,855.6 814.0,855.5 C815.3,855.3 816.7,855.3 818.0,855.2 C819.3,855.0 820.7,855.0 822.0,854.8 C823.3,854.7 824.7,854.7 826.0,854.5 C827.3,854.4 828.7,854.3 830.0,854.2 C831.3,854.0 832.7,853.9 834.0,853.7 C835.3,853.4 836.7,853.1 838.0,852.9 C839.3,852.6 840.7,852.2 842.0,851.9 C843.3,851.6 844.7,851.3 846.0,850.9 C847.3,850.5 848.7,850.1 850.0,849.5 C851.3,848.9 852.7,848.2 854.0,847.5 C855.3,846.8 856.7,846.0 858.0,845.2 C859.3,844.4 860.7,843.6 862.0,842.8 C863.3,842.0 864.7,841.2 866.0,840.3 C867.3,839.5 868.7,838.6 870.0,837.7 C871.3,836.8 872.7,835.8 874.0,834.9 C875.3,834.0 876.7,833.0 878.0,832.1 C879.3,831.2 880.7,830.2 882.0,829.3 C883.3,828.4 884.7,827.5 886.0,826.7 C887.3,825.8 888.7,825.0 890.0,824.2 C891.3,823.5 892.7,822.7 894.0,822.0 C895.3,821.2 896.7,820.5 898.0,819.8 C899.3,819.1 900.7,818.3 902.0,817.6 C903.3,817.0 904.7,816.3 906.0,815.8 C907.3,815.2 908.7,814.8 910.0,814.5 C911.3,814.1 912.7,813.8 914.0,813.5 C915.3,813.3 916.7,813.0 918.0,812.7 C919.3,812.5 920.7,812.2 922.0,812.0 C923.3,811.7 924.7,811.4 926.0,811.2 C927.3,811.0 928.7,810.8 930.0,810.6 C931.3,810.4 932.7,810.3 934.0,810.1 C935.3,810.0 936.7,809.8 938.0,809.6 C939.3,809.4 940.7,809.2 942.0,809.0 C943.3,808.7 944.7,808.4 946.0,808.0 C947.3,807.6 948.7,807.1 950.0,806.7 C951.3,806.3 952.7,805.8 954.0,805.4 C955.3,804.9 956.7,804.4 958.0,804.0 C959.3,803.6 960.7,803.1 962.0,802.7 C963.3,802.3 964.7,801.9 966.0,801.5 C967.3,801.1 968.7,800.7 970.0,800.4 C971.3,800.1 972.7,799.8 974.0,799.6 C975.3,799.4 976.7,799.3 978.0,799.2 C979.3,799.2 980.7,799.1 982.0,799.2 C983.3,799.3 984.7,799.5 986.0,799.7 C987.3,800.0 988.7,800.4 990.0,800.9 C991.3,801.4 992.7,801.9 994.0,802.5 C995.3,803.2 996.7,804.0 998.0,804.9 C999.3,805.8 1000.7,806.9 1002.0,808.0 C1003.3,809.1 1004.7,810.3 1006.0,811.5 C1007.3,812.7 1008.7,813.8 1010.0,815.0 C1011.3,816.2 1012.7,817.4 1014.0,818.6 C1015.3,819.8 1016.7,821.0 1018.0,822.2 C1019.3,823.4 1020.7,824.6 1022.0,825.7 C1023.3,826.9 1024.7,828.0 1026.0,829.1 C1027.3,830.1 1028.7,831.0 1030.0,831.9 C1031.3,832.8 1032.7,833.6 1034.0,834.4 C1035.3,835.2 1036.7,836.0 1038.0,836.8 C1039.3,837.5 1040.7,838.3 1042.0,838.9 C1043.3,839.6 1044.7,840.1 1046.0,840.5 C1047.3,841.0 1048.7,841.3 1050.0,841.7 C1051.3,842.1 1052.7,842.4 1054.0,842.7 C1055.3,843.1 1056.7,843.4 1058.0,843.7 C1059.3,844.0 1060.7,844.2 1062.0,844.5 C1063.3,844.7 1064.7,844.8 1066.0,845.0 C1067.3,845.2 1068.7,845.3 1070.0,845.5 C1071.3,845.7 1072.7,845.8 1074.0,846.0 C1075.3,846.1 1076.7,846.3 1078.0,846.5 C1079.3,846.6 1080.7,846.8 1082.0,847.0 C1083.3,847.1 1084.7,847.3 1086.0,847.5 C1087.3,847.7 1088.7,847.8 1090.0,848.0 C1091.3,848.2 1092.7,848.3 1094.0,848.5 C1095.3,848.7 1096.7,848.9 1098.0,849.1 C1099.3,849.3 1100.7,849.6 1102.0,849.8 C1103.3,850.1 1104.7,850.4 1106.0,850.7 C1107.3,851.0 1108.7,851.3 1110.0,851.7 C1111.3,852.0 1112.7,852.3 1114.0,852.6 C1115.3,852.9 1116.7,853.2 1118.0,853.5 C1119.3,853.8 1120.7,854.0 1122.0,854.3 C1123.3,854.5 1124.7,854.8 1126.0,855.0 C1127.3,855.2 1128.7,855.4 1130.0,855.6 C1131.3,855.9 1132.7,856.1 1134.0,856.3 C1135.3,856.5 1136.7,856.7 1138.0,856.9 C1139.3,857.0 1140.7,857.2 1142.0,857.3 C1143.3,857.3 1144.7,857.4 1146.0,857.4 C1147.3,857.5 1148.7,857.5 1150.0,857.5 C1151.3,857.5 1152.7,857.6 1154.0,857.6 C1155.3,857.6 1156.7,857.6 1158.0,857.6 C1159.3,857.7 1160.7,857.7 1162.0,857.6 C1163.3,857.6 1164.7,857.6 1166.0,857.6 C1167.3,857.6 1168.7,857.6 1170.0,857.6 C1171.3,857.5 1172.7,857.5 1174.0,857.5 C1175.3,857.5 1176.7,857.4 1178.0,857.4 C1179.3,857.4 1180.7,857.4 1182.0,857.4 C1183.3,857.4 1184.7,857.4 1186.0,857.4 C1187.3,857.5 1188.7,857.5 1190.0,857.6 C1191.3,857.7 1192.7,857.8 1194.0,857.9 C1195.3,858.0 1196.7,858.2 1198.0,858.3 C1199.3,858.4 1200.7,858.5 1202.0,858.6 C1203.3,858.7 1204.7,858.8 1206.0,859.0 C1207.3,859.1 1208.7,859.2 1210.0,859.3 C1211.3,859.4 1212.7,859.5 1214.0,859.6 C1215.3,859.8 1216.7,859.9 1218.0,860.0 C1219.3,860.1 1220.7,860.2 1222.0,860.3 C1223.3,860.4 1224.7,860.6 1226.0,860.7 C1227.3,860.8 1228.7,860.9 1230.0,861.0 C1231.3,861.1 1232.7,861.2 1234.0,861.2 C1235.3,861.3 1236.7,861.3 1238.0,861.4 C1239.3,861.4 1240.7,861.4 1242.0,861.4 C1243.3,861.4 1244.7,861.5 1246.0,861.5 C1247.3,861.5 1248.7,861.5 1250.0,861.5 C1251.3,861.5 1252.7,861.6 1254.0,861.6 C1255.3,861.6 1256.7,861.6 1258.0,861.6 C1259.3,861.6 1261.1,861.7 1262.0,861.7 C1262.9,861.7 1263.1,861.7 1263.3,861.7 L1263.3,861.7 L730.0,861.7 Z" fill="#8DCEBB" stroke="#111" stroke-width="1.3" stroke-linejoin="round"/>
<path d="M808.3,861.7 H916.0 M996.7,861.7 H1104.0" stroke="#333333" stroke-width="2.4" fill="none"/>
<path d="M808.3,856.0 V866.7 M1104.0,856.0 V866.7" stroke="#1c1c1c" stroke-width="2.5" fill="none"/>
<rect x="916.9" y="849.9" width="79.3" height="23.9" fill="#1B9E77" stroke="#333333" stroke-width="2.6"/>
<path d="M970.0,850.0 V873.3" stroke="#333333" stroke-width="4.4"/>
<g fill="#1B9E77"><circle cx="808.2" cy="894.0" r="5.8"/><circle cx="862.0" cy="896.7" r="5.8"/><circle cx="889.0" cy="900.0" r="5.8"/><circle cx="889.0" cy="906.0" r="5.8"/><circle cx="889.0" cy="911.0" r="5.8"/><circle cx="915.9" cy="890.0" r="5.8"/><circle cx="915.9" cy="897.0" r="5.8"/><circle cx="915.9" cy="904.0" r="5.8"/><circle cx="915.9" cy="910.0" r="5.8"/><circle cx="942.8" cy="894.0" r="5.8"/><circle cx="942.8" cy="900.0" r="5.8"/><circle cx="942.8" cy="905.0" r="5.8"/><circle cx="969.7" cy="890.0" r="5.8"/><circle cx="969.7" cy="896.0" r="5.8"/><circle cx="969.7" cy="902.0" r="5.8"/><circle cx="969.7" cy="908.0" r="5.8"/><circle cx="969.7" cy="912.0" r="5.8"/><circle cx="996.6" cy="889.0" r="5.8"/><circle cx="996.6" cy="895.0" r="5.8"/><circle cx="996.6" cy="901.0" r="5.8"/><circle cx="996.6" cy="907.0" r="5.8"/><circle cx="1023.6" cy="889.0" r="5.8"/><circle cx="1050.5" cy="909.0" r="5.8"/><circle cx="1077.4" cy="903.3" r="5.8"/><circle cx="1104.3" cy="889.3" r="5.8"/><circle cx="1104.3" cy="911.0" r="5.8"/><circle cx="1185.1" cy="908.3" r="5.8"/></g>
<path d="M1459.7,616.3 C1460.4,616.3 1462.4,616.1 1463.7,616.1 C1465.0,616.0 1466.4,615.9 1467.7,615.9 C1469.0,615.8 1470.4,615.7 1471.7,615.7 C1473.0,615.6 1474.4,615.5 1475.7,615.5 C1477.0,615.4 1478.4,615.3 1479.7,615.3 C1481.0,615.2 1482.4,615.1 1483.7,615.0 C1485.0,615.0 1486.4,614.9 1487.7,614.8 C1489.0,614.8 1490.4,614.7 1491.7,614.6 C1493.0,614.6 1494.4,614.5 1495.7,614.4 C1497.0,614.3 1498.4,614.3 1499.7,614.2 C1501.0,614.1 1502.4,614.0 1503.7,614.0 C1505.0,613.9 1506.4,613.8 1507.7,613.7 C1509.0,613.6 1510.4,613.5 1511.7,613.4 C1513.0,613.2 1514.4,613.1 1515.7,613.0 C1517.0,612.9 1518.4,612.8 1519.7,612.7 C1521.0,612.6 1522.4,612.5 1523.7,612.4 C1525.0,612.3 1526.4,612.2 1527.7,612.1 C1529.0,611.9 1530.4,611.8 1531.7,611.7 C1533.0,611.6 1534.4,611.5 1535.7,611.5 C1537.0,611.4 1538.4,611.3 1539.7,611.3 C1541.0,611.3 1542.4,611.3 1543.7,611.2 C1545.0,611.2 1546.4,611.2 1547.7,611.2 C1549.0,611.2 1550.4,611.2 1551.7,611.2 C1553.0,611.2 1554.4,611.1 1555.7,611.1 C1557.0,611.1 1558.4,611.1 1559.7,611.1 C1561.0,611.1 1562.4,611.1 1563.7,611.1 C1565.0,611.0 1566.4,611.0 1567.7,611.0 C1569.0,611.0 1570.4,611.0 1571.7,611.0 C1573.0,611.0 1574.4,611.0 1575.7,611.0 C1577.0,610.9 1578.4,610.9 1579.7,610.9 C1581.0,610.9 1582.4,610.9 1583.7,610.9 C1585.0,610.9 1586.4,610.9 1587.7,610.8 C1589.0,610.8 1590.4,610.8 1591.7,610.8 C1593.0,610.8 1594.4,610.8 1595.7,610.8 C1597.0,610.8 1598.4,610.7 1599.7,610.7 C1601.0,610.7 1602.4,610.6 1603.7,610.5 C1605.0,610.4 1606.4,610.2 1607.7,610.1 C1609.0,609.9 1610.4,609.7 1611.7,609.5 C1613.0,609.3 1614.4,609.1 1615.7,608.9 C1617.0,608.7 1618.4,608.5 1619.7,608.3 C1621.0,608.0 1622.4,607.8 1623.7,607.4 C1625.0,607.1 1626.4,606.7 1627.7,606.3 C1629.0,605.9 1630.4,605.5 1631.7,605.1 C1633.0,604.6 1634.4,604.2 1635.7,603.7 C1637.0,603.3 1638.4,602.9 1639.7,602.4 C1641.0,602.0 1642.4,601.5 1643.7,601.1 C1645.0,600.7 1646.4,600.2 1647.7,599.8 C1649.0,599.4 1650.4,599.0 1651.7,598.5 C1653.0,598.1 1654.4,597.7 1655.7,597.3 C1657.0,596.9 1658.4,596.4 1659.7,596.0 C1661.0,595.6 1662.4,595.2 1663.7,594.8 C1665.0,594.4 1666.4,593.9 1667.7,593.6 C1669.0,593.2 1670.4,592.8 1671.7,592.4 C1673.0,592.1 1674.4,591.8 1675.7,591.5 C1677.0,591.1 1678.4,590.8 1679.7,590.5 C1681.0,590.2 1682.4,589.9 1683.7,589.6 C1685.0,589.3 1686.4,589.0 1687.7,588.7 C1689.0,588.4 1690.4,588.1 1691.7,587.8 C1693.0,587.5 1694.4,587.3 1695.7,587.0 C1697.0,586.8 1698.4,586.6 1699.7,586.4 C1701.0,586.2 1702.4,586.0 1703.7,585.8 C1705.0,585.6 1706.4,585.4 1707.7,585.2 C1709.0,585.0 1710.4,584.8 1711.7,584.6 C1713.0,584.4 1714.4,584.2 1715.7,584.0 C1717.0,583.7 1718.4,583.5 1719.7,583.2 C1721.0,583.0 1722.4,582.6 1723.7,582.3 C1725.0,582.0 1726.4,581.6 1727.7,581.2 C1729.0,580.9 1730.4,580.5 1731.7,580.1 C1733.0,579.7 1734.4,579.4 1735.7,579.0 C1737.0,578.5 1738.4,578.1 1739.7,577.7 C1741.0,577.2 1742.4,576.6 1743.7,576.0 C1745.0,575.5 1746.4,574.8 1747.7,574.2 C1749.0,573.6 1750.4,573.0 1751.7,572.3 C1753.0,571.7 1754.4,571.1 1755.7,570.5 C1757.0,569.9 1758.4,569.2 1759.7,568.7 C1761.0,568.1 1762.4,567.5 1763.7,567.0 C1765.0,566.4 1766.4,565.9 1767.7,565.4 C1769.0,564.9 1770.4,564.3 1771.7,563.8 C1773.0,563.3 1774.4,562.8 1775.7,562.4 C1777.0,562.0 1778.4,561.7 1779.7,561.5 C1781.0,561.2 1782.4,561.0 1783.7,560.9 C1785.0,560.7 1786.4,560.5 1787.7,560.5 C1789.0,560.5 1790.4,560.5 1791.7,560.6 C1793.0,560.8 1794.4,561.1 1795.7,561.4 C1797.0,561.7 1798.4,562.0 1799.7,562.4 C1801.0,562.8 1802.4,563.2 1803.7,563.8 C1805.0,564.4 1806.4,565.1 1807.7,565.8 C1809.0,566.5 1810.4,567.3 1811.7,568.1 C1813.0,568.9 1814.4,569.7 1815.7,570.6 C1817.0,571.4 1818.4,572.3 1819.7,573.3 C1821.0,574.2 1822.4,575.3 1823.7,576.4 C1825.0,577.6 1826.4,578.8 1827.7,580.0 C1829.0,581.1 1830.4,582.3 1831.7,583.5 C1833.0,584.7 1834.4,585.9 1835.7,587.1 C1837.0,588.2 1838.4,589.3 1839.7,590.4 C1841.0,591.5 1842.4,592.6 1843.7,593.7 C1845.0,594.7 1846.4,595.8 1847.7,596.9 C1849.0,597.9 1850.4,599.0 1851.7,599.9 C1853.0,600.9 1854.4,601.7 1855.7,602.5 C1857.0,603.3 1858.4,604.0 1859.7,604.7 C1861.0,605.4 1862.4,606.0 1863.7,606.7 C1865.0,607.3 1866.4,608.0 1867.7,608.6 C1869.0,609.2 1870.4,609.7 1871.7,610.2 C1873.0,610.7 1874.4,611.1 1875.7,611.5 C1877.0,611.9 1878.4,612.3 1879.7,612.6 C1881.0,613.0 1882.4,613.4 1883.7,613.7 C1885.0,614.0 1886.4,614.3 1887.7,614.6 C1889.0,614.8 1890.4,615.0 1891.7,615.1 C1893.0,615.3 1894.4,615.4 1895.7,615.5 C1897.0,615.7 1898.4,615.8 1899.7,615.9 C1901.0,616.0 1902.4,616.1 1903.7,616.2 C1905.0,616.2 1906.4,616.3 1907.7,616.3 C1909.0,616.3 1910.4,616.3 1911.7,616.3 C1913.0,616.3 1914.4,616.3 1915.7,616.3 C1917.0,616.3 1918.4,616.3 1919.7,616.3 C1921.0,616.3 1922.5,616.3 1923.7,616.3 C1924.9,616.3 1926.5,616.3 1927.0,616.3 L1927.0,616.3 L1459.7,616.3 Z" fill="#BAB7D9" stroke="#111" stroke-width="1.3" stroke-linejoin="round"/>
<path d="M1559.0,616.3 H1693.0 M1795.3,616.3 H1828.0" stroke="#333333" stroke-width="2.4" fill="none"/>
<path d="M1559.0,610.7 V622.3 M1828.0,610.7 V622.3" stroke="#1c1c1c" stroke-width="2.5" fill="none"/>
<rect x="1693.9" y="604.2" width="100.9" height="24.6" fill="#7570B3" stroke="#333333" stroke-width="2.6"/>
<path d="M1761.3,604.3 V628.3" stroke="#333333" stroke-width="4.4"/>
<g fill="#7570B3"><circle cx="1559.1" cy="655.7" r="5.8"/><circle cx="1659.8" cy="656.0" r="5.8"/><circle cx="1659.8" cy="661.0" r="5.8"/><circle cx="1659.8" cy="666.0" r="5.8"/><circle cx="1693.4" cy="646.0" r="5.8"/><circle cx="1693.4" cy="664.0" r="5.8"/><circle cx="1727.0" cy="647.7" r="5.8"/><circle cx="1760.6" cy="648.3" r="5.8"/><circle cx="1760.6" cy="655.0" r="5.8"/><circle cx="1794.1" cy="644.0" r="5.8"/><circle cx="1794.1" cy="648.0" r="5.8"/><circle cx="1794.1" cy="656.7" r="5.8"/><circle cx="1794.1" cy="660.0" r="5.8"/><circle cx="1827.7" cy="646.0" r="5.8"/><circle cx="1827.7" cy="651.7" r="5.8"/><circle cx="1827.7" cy="655.0" r="5.8"/></g>
<path d="M1448.0,739.3 C1448.7,739.3 1450.7,739.2 1452.0,739.1 C1453.3,739.1 1454.7,739.0 1456.0,739.0 C1457.3,738.9 1458.7,738.9 1460.0,738.8 C1461.3,738.8 1462.7,738.7 1464.0,738.7 C1465.3,738.6 1466.7,738.6 1468.0,738.5 C1469.3,738.5 1470.7,738.4 1472.0,738.4 C1473.3,738.3 1474.7,738.3 1476.0,738.2 C1477.3,738.2 1478.7,738.1 1480.0,738.1 C1481.3,738.0 1482.7,738.0 1484.0,737.9 C1485.3,737.9 1486.7,737.8 1488.0,737.7 C1489.3,737.6 1490.7,737.5 1492.0,737.4 C1493.3,737.3 1494.7,737.1 1496.0,736.9 C1497.3,736.7 1498.7,736.5 1500.0,736.4 C1501.3,736.2 1502.7,736.0 1504.0,735.8 C1505.3,735.6 1506.7,735.4 1508.0,735.2 C1509.3,735.1 1510.7,734.9 1512.0,734.7 C1513.3,734.5 1514.7,734.3 1516.0,734.2 C1517.3,734.0 1518.7,733.8 1520.0,733.7 C1521.3,733.5 1522.7,733.4 1524.0,733.2 C1525.3,733.1 1526.7,732.9 1528.0,732.8 C1529.3,732.6 1530.7,732.5 1532.0,732.3 C1533.3,732.2 1534.7,732.0 1536.0,731.9 C1537.3,731.7 1538.7,731.6 1540.0,731.4 C1541.3,731.3 1542.7,731.2 1544.0,731.1 C1545.3,731.1 1546.7,731.0 1548.0,731.0 C1549.3,731.0 1550.7,731.0 1552.0,731.0 C1553.3,731.0 1554.7,731.0 1556.0,731.0 C1557.3,731.0 1558.7,731.0 1560.0,731.0 C1561.3,731.0 1562.7,731.0 1564.0,731.0 C1565.3,731.0 1566.7,731.0 1568.0,731.0 C1569.3,731.0 1570.7,731.1 1572.0,731.1 C1573.3,731.1 1574.7,731.2 1576.0,731.3 C1577.3,731.3 1578.7,731.4 1580.0,731.4 C1581.3,731.5 1582.7,731.5 1584.0,731.6 C1585.3,731.7 1586.7,731.7 1588.0,731.8 C1589.3,731.8 1590.7,731.9 1592.0,731.9 C1593.3,732.0 1594.7,732.1 1596.0,732.1 C1597.3,732.1 1598.7,732.1 1600.0,732.1 C1601.3,732.1 1602.7,732.0 1604.0,731.9 C1605.3,731.8 1606.7,731.7 1608.0,731.5 C1609.3,731.4 1610.7,731.3 1612.0,731.1 C1613.3,731.0 1614.7,730.9 1616.0,730.8 C1617.3,730.6 1618.7,730.5 1620.0,730.3 C1621.3,730.2 1622.7,730.0 1624.0,729.8 C1625.3,729.6 1626.7,729.3 1628.0,729.0 C1629.3,728.7 1630.7,728.4 1632.0,728.1 C1633.3,727.8 1634.7,727.5 1636.0,727.2 C1637.3,726.9 1638.7,726.6 1640.0,726.3 C1641.3,726.0 1642.7,725.7 1644.0,725.4 C1645.3,725.1 1646.7,724.8 1648.0,724.5 C1649.3,724.2 1650.7,723.9 1652.0,723.6 C1653.3,723.3 1654.7,723.0 1656.0,722.7 C1657.3,722.3 1658.7,722.0 1660.0,721.7 C1661.3,721.4 1662.7,721.1 1664.0,720.8 C1665.3,720.5 1666.7,720.1 1668.0,719.8 C1669.3,719.5 1670.7,719.2 1672.0,718.9 C1673.3,718.6 1674.7,718.3 1676.0,717.9 C1677.3,717.6 1678.7,717.3 1680.0,717.0 C1681.3,716.7 1682.7,716.4 1684.0,716.1 C1685.3,715.8 1686.7,715.5 1688.0,715.2 C1689.3,714.9 1690.7,714.6 1692.0,714.3 C1693.3,714.0 1694.7,713.7 1696.0,713.4 C1697.3,713.1 1698.7,712.8 1700.0,712.5 C1701.3,712.2 1702.7,711.9 1704.0,711.5 C1705.3,711.2 1706.7,710.9 1708.0,710.5 C1709.3,710.1 1710.7,709.8 1712.0,709.4 C1713.3,709.0 1714.7,708.6 1716.0,708.3 C1717.3,707.9 1718.7,707.5 1720.0,707.2 C1721.3,706.8 1722.7,706.4 1724.0,706.1 C1725.3,705.7 1726.7,705.3 1728.0,704.9 C1729.3,704.5 1730.7,704.2 1732.0,703.8 C1733.3,703.4 1734.7,703.0 1736.0,702.6 C1737.3,702.2 1738.7,701.8 1740.0,701.4 C1741.3,701.0 1742.7,700.6 1744.0,700.2 C1745.3,699.8 1746.7,699.4 1748.0,699.0 C1749.3,698.6 1750.7,698.2 1752.0,697.9 C1753.3,697.5 1754.7,697.2 1756.0,696.8 C1757.3,696.5 1758.7,696.2 1760.0,695.9 C1761.3,695.6 1762.7,695.3 1764.0,695.1 C1765.3,694.8 1766.7,694.5 1768.0,694.3 C1769.3,694.1 1770.7,693.9 1772.0,693.8 C1773.3,693.7 1774.7,693.6 1776.0,693.6 C1777.3,693.5 1778.7,693.5 1780.0,693.5 C1781.3,693.5 1782.7,693.4 1784.0,693.5 C1785.3,693.5 1786.7,693.6 1788.0,693.7 C1789.3,693.9 1790.7,694.1 1792.0,694.3 C1793.3,694.6 1794.7,694.9 1796.0,695.1 C1797.3,695.4 1798.7,695.7 1800.0,696.0 C1801.3,696.3 1802.7,696.7 1804.0,697.1 C1805.3,697.5 1806.7,698.0 1808.0,698.5 C1809.3,699.0 1810.7,699.6 1812.0,700.1 C1813.3,700.7 1814.7,701.3 1816.0,701.8 C1817.3,702.4 1818.7,702.9 1820.0,703.5 C1821.3,704.0 1822.7,704.6 1824.0,705.2 C1825.3,705.8 1826.7,706.3 1828.0,706.9 C1829.3,707.5 1830.7,708.1 1832.0,708.7 C1833.3,709.3 1834.7,709.9 1836.0,710.5 C1837.3,711.1 1838.7,711.7 1840.0,712.3 C1841.3,712.9 1842.7,713.5 1844.0,714.1 C1845.3,714.7 1846.7,715.2 1848.0,715.8 C1849.3,716.3 1850.7,716.9 1852.0,717.4 C1853.3,718.0 1854.7,718.6 1856.0,719.1 C1857.3,719.7 1858.7,720.2 1860.0,720.7 C1861.3,721.3 1862.7,721.8 1864.0,722.3 C1865.3,722.8 1866.7,723.2 1868.0,723.7 C1869.3,724.2 1870.7,724.6 1872.0,725.0 C1873.3,725.5 1874.7,725.9 1876.0,726.4 C1877.3,726.8 1878.7,727.2 1880.0,727.7 C1881.3,728.1 1882.7,728.6 1884.0,729.0 C1885.3,729.4 1886.7,729.8 1888.0,730.2 C1889.3,730.5 1890.7,730.9 1892.0,731.2 C1893.3,731.6 1894.7,731.9 1896.0,732.2 C1897.3,732.5 1898.7,732.9 1900.0,733.2 C1901.3,733.5 1902.7,733.8 1904.0,734.2 C1905.3,734.5 1906.7,734.8 1908.0,735.1 C1909.3,735.3 1910.7,735.6 1912.0,735.8 C1913.3,736.0 1914.7,736.2 1916.0,736.3 C1917.3,736.5 1918.7,736.6 1920.0,736.8 C1921.3,736.9 1922.7,737.1 1924.0,737.2 C1925.3,737.4 1926.7,737.5 1928.0,737.7 C1929.3,737.8 1930.7,738.0 1932.0,738.1 C1933.3,738.3 1934.7,738.4 1936.0,738.5 C1937.3,738.6 1938.7,738.7 1940.0,738.7 C1941.3,738.8 1942.7,738.8 1944.0,738.8 C1945.3,738.8 1946.7,738.9 1948.0,738.9 C1949.3,738.9 1950.7,738.9 1952.0,739.0 C1953.3,739.0 1954.7,739.0 1956.0,739.0 C1957.3,739.0 1958.7,739.1 1960.0,739.1 C1961.3,739.1 1962.7,739.1 1964.0,739.2 C1965.3,739.2 1966.5,739.2 1968.0,739.2 C1969.5,739.2 1971.9,739.3 1972.7,739.3 L1972.7,739.3 L1448.0,739.3 Z" fill="#ECAF80" stroke="#111" stroke-width="1.3" stroke-linejoin="round"/>
<path d="M1559.0,739.3 H1693.0 M1795.3,739.3 H1861.3" stroke="#333333" stroke-width="2.4" fill="none"/>
<path d="M1559.0,733.3 V745.0 M1861.3,733.3 V745.0" stroke="#1c1c1c" stroke-width="2.5" fill="none"/>
<rect x="1693.9" y="727.6" width="100.9" height="24.2" fill="#D95F02" stroke="#333333" stroke-width="2.6"/>
<path d="M1761.3,727.7 V751.3" stroke="#333333" stroke-width="4.4"/>
<g fill="#D95F02"><circle cx="1559.1" cy="780.0" r="5.8"/><circle cx="1559.1" cy="783.0" r="5.8"/><circle cx="1659.8" cy="777.3" r="5.8"/><circle cx="1659.8" cy="786.7" r="5.8"/><circle cx="1693.4" cy="768.3" r="5.8"/><circle cx="1693.4" cy="775.0" r="5.8"/><circle cx="1727.0" cy="776.7" r="5.8"/><circle cx="1727.0" cy="782.7" r="5.8"/><circle cx="1760.6" cy="769.3" r="5.8"/><circle cx="1760.6" cy="777.3" r="5.8"/><circle cx="1760.6" cy="783.3" r="5.8"/><circle cx="1794.1" cy="765.0" r="5.8"/><circle cx="1794.1" cy="770.0" r="5.8"/><circle cx="1794.1" cy="777.3" r="5.8"/><circle cx="1794.1" cy="780.7" r="5.8"/><circle cx="1827.7" cy="770.7" r="5.8"/><circle cx="1861.3" cy="770.0" r="5.8"/><circle cx="1861.3" cy="775.0" r="5.8"/><circle cx="1861.3" cy="781.7" r="5.8"/></g>
<path d="M1593.7,861.7 C1594.4,861.6 1596.4,861.4 1597.7,861.3 C1599.0,861.2 1600.4,861.1 1601.7,861.0 C1603.0,860.9 1604.4,860.7 1605.7,860.6 C1607.0,860.5 1608.4,860.4 1609.7,860.3 C1611.0,860.1 1612.4,860.0 1613.7,859.9 C1615.0,859.7 1616.4,859.6 1617.7,859.4 C1619.0,859.2 1620.4,859.0 1621.7,858.6 C1623.0,858.3 1624.4,857.9 1625.7,857.5 C1627.0,857.1 1628.4,856.6 1629.7,856.2 C1631.0,855.8 1632.4,855.3 1633.7,854.9 C1635.0,854.4 1636.4,854.0 1637.7,853.6 C1639.0,853.1 1640.4,852.7 1641.7,852.3 C1643.0,851.9 1644.4,851.5 1645.7,851.1 C1647.0,850.7 1648.4,850.3 1649.7,849.9 C1651.0,849.5 1652.4,849.1 1653.7,848.7 C1655.0,848.3 1656.4,847.9 1657.7,847.6 C1659.0,847.3 1660.4,847.0 1661.7,846.8 C1663.0,846.6 1664.4,846.6 1665.7,846.5 C1667.0,846.4 1668.4,846.3 1669.7,846.2 C1671.0,846.2 1672.4,846.1 1673.7,846.0 C1675.0,846.0 1676.4,845.9 1677.7,845.8 C1679.0,845.7 1680.4,845.6 1681.7,845.5 C1683.0,845.4 1684.4,845.3 1685.7,845.1 C1687.0,845.0 1688.4,844.9 1689.7,844.7 C1691.0,844.6 1692.4,844.5 1693.7,844.3 C1695.0,844.1 1696.4,843.8 1697.7,843.5 C1699.0,843.2 1700.4,842.8 1701.7,842.4 C1703.0,841.9 1704.4,841.5 1705.7,841.0 C1707.0,840.6 1708.4,840.1 1709.7,839.6 C1711.0,839.1 1712.4,838.5 1713.7,837.8 C1715.0,837.1 1716.4,836.3 1717.7,835.4 C1719.0,834.6 1720.4,833.6 1721.7,832.7 C1723.0,831.8 1724.4,830.9 1725.7,829.9 C1727.0,828.9 1728.4,827.9 1729.7,826.8 C1731.0,825.7 1732.4,824.5 1733.7,823.2 C1735.0,822.0 1736.4,820.6 1737.7,819.3 C1739.0,818.0 1740.4,816.7 1741.7,815.5 C1743.0,814.3 1744.4,813.1 1745.7,812.1 C1747.0,811.0 1748.4,810.1 1749.7,809.1 C1751.0,808.2 1752.4,807.3 1753.7,806.5 C1755.0,805.6 1756.4,804.9 1757.7,804.3 C1759.0,803.7 1760.4,803.3 1761.7,802.9 C1763.0,802.5 1764.4,802.1 1765.7,801.9 C1767.0,801.7 1768.4,801.6 1769.7,801.6 C1771.0,801.6 1772.4,801.8 1773.7,802.1 C1775.0,802.3 1776.4,802.5 1777.7,802.9 C1779.0,803.2 1780.4,803.5 1781.7,803.9 C1783.0,804.3 1784.4,804.8 1785.7,805.3 C1787.0,805.7 1788.4,806.2 1789.7,806.7 C1791.0,807.2 1792.4,807.6 1793.7,808.1 C1795.0,808.6 1796.4,809.1 1797.7,809.5 C1799.0,810.0 1800.4,810.4 1801.7,810.9 C1803.0,811.4 1804.4,811.8 1805.7,812.3 C1807.0,812.7 1808.4,813.2 1809.7,813.6 C1811.0,814.1 1812.4,814.5 1813.7,814.9 C1815.0,815.4 1816.4,815.8 1817.7,816.2 C1819.0,816.6 1820.4,817.0 1821.7,817.4 C1823.0,817.8 1824.4,818.2 1825.7,818.6 C1827.0,819.1 1828.4,819.5 1829.7,820.0 C1831.0,820.6 1832.4,821.1 1833.7,821.8 C1835.0,822.4 1836.4,823.0 1837.7,823.7 C1839.0,824.3 1840.4,825.0 1841.7,825.7 C1843.0,826.4 1844.4,827.0 1845.7,827.7 C1847.0,828.5 1848.4,829.2 1849.7,830.0 C1851.0,830.7 1852.4,831.5 1853.7,832.3 C1855.0,833.1 1856.4,833.9 1857.7,834.7 C1859.0,835.5 1860.4,836.3 1861.7,837.2 C1863.0,838.0 1864.4,838.9 1865.7,839.8 C1867.0,840.7 1868.4,841.6 1869.7,842.5 C1871.0,843.5 1872.4,844.4 1873.7,845.3 C1875.0,846.3 1876.4,847.2 1877.7,848.1 C1879.0,848.9 1880.4,849.8 1881.7,850.5 C1883.0,851.3 1884.4,852.0 1885.7,852.7 C1887.0,853.4 1888.4,854.0 1889.7,854.7 C1891.0,855.3 1892.4,856.0 1893.7,856.6 C1895.0,857.2 1896.4,857.7 1897.7,858.2 C1899.0,858.6 1900.4,859.0 1901.7,859.3 C1903.0,859.7 1904.4,860.0 1905.7,860.2 C1907.0,860.5 1908.4,860.8 1909.7,860.9 C1911.0,861.1 1912.4,861.2 1913.7,861.3 C1915.0,861.4 1916.4,861.4 1917.7,861.5 C1919.0,861.5 1920.4,861.5 1921.7,861.6 C1923.0,861.6 1924.8,861.6 1925.7,861.6 C1926.6,861.7 1926.8,861.7 1927.0,861.7 L1927.0,861.7 L1593.7,861.7 Z" fill="#8DCEBB" stroke="#111" stroke-width="1.3" stroke-linejoin="round"/>
<path d="M1659.7,861.7 H1758.7 M1829.3,861.7 H1861.3" stroke="#333333" stroke-width="2.4" fill="none"/>
<path d="M1659.7,856.7 V868.3 M1861.3,856.7 V868.3" stroke="#1c1c1c" stroke-width="2.5" fill="none"/>
<rect x="1759.6" y="850.9" width="69.2" height="24.3" fill="#1B9E77" stroke="#333333" stroke-width="2.6"/>
<path d="M1762.5,851.0 V874.7" stroke="#333333" stroke-width="4.4"/>
<g fill="#1B9E77"><circle cx="1659.8" cy="890.0" r="5.8"/><circle cx="1659.8" cy="901.0" r="5.8"/><circle cx="1659.8" cy="906.0" r="5.8"/><circle cx="1659.8" cy="911.0" r="5.8"/><circle cx="1693.4" cy="896.7" r="5.8"/><circle cx="1727.0" cy="891.0" r="5.8"/><circle cx="1727.0" cy="897.0" r="5.8"/><circle cx="1727.0" cy="903.0" r="5.8"/><circle cx="1727.0" cy="909.0" r="5.8"/><circle cx="1760.6" cy="888.0" r="5.8"/><circle cx="1760.6" cy="893.0" r="5.8"/><circle cx="1760.6" cy="898.0" r="5.8"/><circle cx="1760.6" cy="903.0" r="5.8"/><circle cx="1760.6" cy="908.0" r="5.8"/><circle cx="1760.6" cy="912.0" r="5.8"/><circle cx="1794.1" cy="889.0" r="5.8"/><circle cx="1794.1" cy="894.0" r="5.8"/><circle cx="1794.1" cy="899.0" r="5.8"/><circle cx="1794.1" cy="904.0" r="5.8"/><circle cx="1794.1" cy="909.0" r="5.8"/><circle cx="1794.1" cy="913.0" r="5.8"/><circle cx="1827.7" cy="889.0" r="5.8"/><circle cx="1827.7" cy="894.0" r="5.8"/><circle cx="1827.7" cy="899.0" r="5.8"/><circle cx="1827.7" cy="904.0" r="5.8"/><circle cx="1827.7" cy="909.0" r="5.8"/><circle cx="1861.3" cy="891.0" r="5.8"/><circle cx="1861.3" cy="896.0" r="5.8"/><circle cx="1861.3" cy="901.0" r="5.8"/><circle cx="1861.3" cy="906.0" r="5.8"/><circle cx="1861.3" cy="910.0" r="5.8"/></g>
<path d="M195.4,376.5 H645.8" stroke="#d2d2d2" stroke-width="1.6" fill="none"/>
<path d="M195.4,375.7 V389.5" stroke="#8c8c8c" stroke-width="1.4" fill="none"/>
<path d="M315.6,375.7 V389.5" stroke="#bdbdbd" stroke-width="1.4" fill="none"/>
<path d="M434.8,375.7 V389.5" stroke="#8c8c8c" stroke-width="1.4" fill="none"/>
<path d="M553.7,375.7 V389.5" stroke="#3a3a3a" stroke-width="1.4" fill="none"/>
<g class="tk" font-size="26"><text transform="translate(195.4,419.0) scale(1.000,1)">0.50</text><text transform="translate(315.6,419.0) scale(1.000,1)">0.55</text><text transform="translate(434.8,419.0) scale(1.000,1)">0.60</text><text transform="translate(553.7,419.0) scale(1.000,1)">0.65</text></g>
<text class="ti" x="339.6" y="468.3" textLength="190.0" lengthAdjust="spacingAndGlyphs">Risk aversion</text>
<path d="M683.6,375.7 H1297.5" stroke="#d2d2d2" stroke-width="1.6" fill="none"/>
<path d="M683.6,374.9 V388.7" stroke="#bdbdbd" stroke-width="1.4" fill="none"/>
<path d="M771.2,374.9 V388.7" stroke="#3a3a3a" stroke-width="1.4" fill="none"/>
<path d="M859.2,374.9 V388.7" stroke="#3a3a3a" stroke-width="1.4" fill="none"/>
<path d="M947.0,374.9 V388.7" stroke="#bdbdbd" stroke-width="1.4" fill="none"/>
<path d="M1034.0,374.9 V388.7" stroke="#bdbdbd" stroke-width="1.4" fill="none"/>
<path d="M1121.8,374.9 V388.7" stroke="#8c8c8c" stroke-width="1.4" fill="none"/>
<path d="M1210.0,374.9 V388.7" stroke="#3a3a3a" stroke-width="1.4" fill="none"/>
<path d="M1297.5,374.9 V388.7" stroke="#bdbdbd" stroke-width="1.4" fill="none"/>
<g class="tk" font-size="26"><text transform="translate(683.6,418.7) scale(0.920,1)">0.5</text><text transform="translate(771.2,418.7) scale(0.920,1)">1.0</text><text transform="translate(859.2,418.7) scale(0.920,1)">1.5</text><text transform="translate(947.0,418.7) scale(0.920,1)">2.0</text><text transform="translate(1034.0,418.7) scale(0.920,1)">2.5</text><text transform="translate(1121.8,418.7) scale(0.920,1)">3.0</text><text transform="translate(1210.0,418.7) scale(0.920,1)">3.5</text><text transform="translate(1297.5,418.7) scale(0.920,1)">4.0</text></g>
<text class="ti" x="901.5" y="468.0" textLength="177.5" lengthAdjust="spacingAndGlyphs">Loss aversion</text>
<path d="M1336.3,375.7 H1927.5" stroke="#d2d2d2" stroke-width="1.6" fill="none"/>
<path d="M1430.8,374.9 V388.7" stroke="#8c8c8c" stroke-width="1.4" fill="none"/>
<path d="M1565.0,374.9 V388.7" stroke="#3a3a3a" stroke-width="1.4" fill="none"/>
<path d="M1699.4,374.9 V388.7" stroke="#3a3a3a" stroke-width="1.4" fill="none"/>
<path d="M1833.8,374.9 V388.7" stroke="#8c8c8c" stroke-width="1.4" fill="none"/>
<g class="tk" font-size="26"><text transform="translate(1430.8,418.6) scale(1.000,1)">0.4</text><text transform="translate(1565.0,418.6) scale(1.000,1)">0.6</text><text transform="translate(1699.4,418.6) scale(1.000,1)">0.8</text><text transform="translate(1833.8,418.6) scale(1.000,1)">1.0</text></g>
<text class="ti" x="1546.8" y="468.3" textLength="171.0" lengthAdjust="spacingAndGlyphs">Consistency</text>
<path d="M143.4,962.7 H621.4" stroke="#8f8f8f" stroke-width="1.3" fill="none"/>
<path d="M143.4,961.9 V975.7" stroke="#3a3a3a" stroke-width="1.4" fill="none"/>
<path d="M203.2,961.9 V975.7" stroke="#3a3a3a" stroke-width="1.4" fill="none"/>
<path d="M262.9,961.9 V975.7" stroke="#3a3a3a" stroke-width="1.4" fill="none"/>
<path d="M322.6,961.9 V975.7" stroke="#3a3a3a" stroke-width="1.4" fill="none"/>
<path d="M382.4,961.9 V975.7" stroke="#3a3a3a" stroke-width="1.4" fill="none"/>
<path d="M442.1,961.9 V975.7" stroke="#3a3a3a" stroke-width="1.4" fill="none"/>
<path d="M501.9,961.9 V975.7" stroke="#3a3a3a" stroke-width="1.4" fill="none"/>
<path d="M561.6,961.9 V975.7" stroke="#3a3a3a" stroke-width="1.4" fill="none"/>
<path d="M621.4,961.9 V975.7" stroke="#3a3a3a" stroke-width="1.4" fill="none"/>
<g class="tk" font-size="26"><text transform="translate(143.4,1004.7) scale(1.000,1)">-60</text><text transform="translate(203.2,1004.7) scale(1.000,1)">-40</text><text transform="translate(262.9,1004.7) scale(1.000,1)">-20</text><text transform="translate(322.6,1004.7) scale(1.000,1)">0</text><text transform="translate(382.4,1004.7) scale(1.000,1)">20</text><text transform="translate(442.1,1004.7) scale(1.000,1)">40</text><text transform="translate(501.9,1004.7) scale(1.000,1)">60</text><text transform="translate(561.6,1004.7) scale(1.000,1)">80</text><text transform="translate(621.4,1004.7) scale(1.000,1)">100</text></g>
<text class="ti" x="313.8" y="1054.5" textLength="137.7" lengthAdjust="spacingAndGlyphs">IGT_Total</text>
<path d="M673.3,929.0 H1329.5" stroke="#cfcfcf" stroke-width="2.0" fill="none"/>
<path d="M673.6,928.2 V942.0" stroke="#8c8c8c" stroke-width="1.4" fill="none"/>
<path d="M808.2,928.2 V942.0" stroke="#bdbdbd" stroke-width="1.4" fill="none"/>
<path d="M942.8,928.2 V942.0" stroke="#3a3a3a" stroke-width="1.4" fill="none"/>
<path d="M1077.4,928.2 V942.0" stroke="#3a3a3a" stroke-width="1.4" fill="none"/>
<path d="M1212.0,928.2 V942.0" stroke="#8c8c8c" stroke-width="1.4" fill="none"/>
<g class="tk" font-size="25"><text transform="translate(673.6,972.4) scale(0.960,1)">0</text><text transform="translate(808.2,972.4) scale(0.960,1)">5</text><text transform="translate(942.8,972.4) scale(0.960,1)">10</text><text transform="translate(1077.4,972.4) scale(0.960,1)">15</text><text transform="translate(1212.0,972.4) scale(0.960,1)">20</text></g>
<text class="ti" x="904.2" y="1021.0" textLength="211.5" lengthAdjust="spacingAndGlyphs">Stimulating risk</text>
<path d="M1357.4,929.8 H2002.8" stroke="#b4b4b4" stroke-width="2.0" fill="none"/>
<path d="M1357.6,929.0 V942.8" stroke="#bdbdbd" stroke-width="1.4" fill="none"/>
<path d="M1525.5,929.0 V942.8" stroke="#8c8c8c" stroke-width="1.4" fill="none"/>
<path d="M1693.4,929.0 V942.8" stroke="#3a3a3a" stroke-width="1.4" fill="none"/>
<path d="M1861.3,929.0 V942.8" stroke="#3a3a3a" stroke-width="1.4" fill="none"/>
<g class="tk" font-size="25"><text transform="translate(1357.6,972.4) scale(0.960,1)">0</text><text transform="translate(1525.5,972.4) scale(0.960,1)">5</text><text transform="translate(1693.4,972.4) scale(0.960,1)">10</text><text transform="translate(1861.3,972.4) scale(0.960,1)">15</text></g>
<text class="ti" x="1578.8" y="1021.5" textLength="230.5" lengthAdjust="spacingAndGlyphs">Instrumental risk</text>
<path d="M172.3,55.0 V309.4" stroke="#9c9c9c" stroke-width="2.3" fill="none"/>
<path d="M159.4,55.6 H173.5 M159.4,183.0 H171.5" stroke="#444" stroke-width="1.3" fill="none"/>
<path d="M159.4,309.4 H171" stroke="#ededed" stroke-width="1.4" fill="none"/>
<text class="yl" x="148.5" y="65.3">Useful risk</text>
<text class="yl" x="148.5" y="192.5">Useless risk</text>
<text class="yl" x="148.5" y="312.5" textLength="140" lengthAdjust="spacingAndGlyphs">Risk-avoidant</text>
<path d="M172.3,641.8 V896.0" stroke="#ababab" stroke-width="3.0" fill="none"/>
<path d="M159.4,642.4 H173.5 M159.4,770.0 H171.5" stroke="#444" stroke-width="1.3" fill="none"/>
<path d="M159.4,896.0 H171" stroke="#ededed" stroke-width="1.4" fill="none"/>
<text class="yl" x="148.5" y="651.5">Useful risk</text>
<text class="yl" x="148.5" y="779.0">Useless risk</text>
<text class="yl" x="148.5" y="898.0" textLength="140" lengthAdjust="spacingAndGlyphs">Risk-avoidant</text>
</svg>
</body></html>
